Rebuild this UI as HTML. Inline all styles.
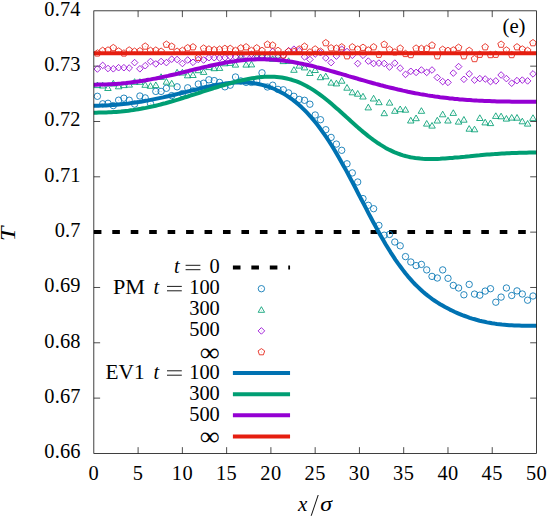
<!DOCTYPE html>
<html><head><meta charset="utf-8"><title>plot</title>
<style>
html,body{margin:0;padding:0;background:#fff;}
body{width:548px;height:517px;overflow:hidden;}
svg{display:block;}
text{font-family:"Liberation Serif",serif;fill:#000;}
.it{font-style:italic;}
</style></head><body>
<svg width="548" height="517" viewBox="0 0 548 517">
<rect width="548" height="517" fill="#fff"/>
<text x="93.8" y="480.3" font-size="20.4" text-anchor="middle" letter-spacing="0.4">0</text>
<text x="138.1" y="480.3" font-size="20.4" text-anchor="middle" letter-spacing="0.4">5</text>
<text x="182.4" y="480.3" font-size="20.4" text-anchor="middle" letter-spacing="0.4">10</text>
<text x="226.6" y="480.3" font-size="20.4" text-anchor="middle" letter-spacing="0.4">15</text>
<text x="270.9" y="480.3" font-size="20.4" text-anchor="middle" letter-spacing="0.4">20</text>
<text x="315.2" y="480.3" font-size="20.4" text-anchor="middle" letter-spacing="0.4">25</text>
<text x="359.4" y="480.3" font-size="20.4" text-anchor="middle" letter-spacing="0.4">30</text>
<text x="403.7" y="480.3" font-size="20.4" text-anchor="middle" letter-spacing="0.4">35</text>
<text x="448.0" y="480.3" font-size="20.4" text-anchor="middle" letter-spacing="0.4">40</text>
<text x="492.2" y="480.3" font-size="20.4" text-anchor="middle" letter-spacing="0.4">45</text>
<text x="536.5" y="480.3" font-size="20.4" text-anchor="middle" letter-spacing="0.4">50</text>
<text x="80.6" y="458.3" font-size="20.4" text-anchor="end" letter-spacing="0.15">0.66</text>
<text x="80.6" y="403.0" font-size="20.4" text-anchor="end" letter-spacing="0.15">0.67</text>
<text x="80.6" y="347.7" font-size="20.4" text-anchor="end" letter-spacing="0.15">0.68</text>
<text x="80.6" y="292.4" font-size="20.4" text-anchor="end" letter-spacing="0.15">0.69</text>
<text x="80.6" y="237.0" font-size="20.4" text-anchor="end" letter-spacing="0.15">0.7</text>
<text x="80.6" y="181.7" font-size="20.4" text-anchor="end" letter-spacing="0.15">0.71</text>
<text x="80.6" y="126.4" font-size="20.4" text-anchor="end" letter-spacing="0.15">0.72</text>
<text x="80.6" y="71.1" font-size="20.4" text-anchor="end" letter-spacing="0.15">0.73</text>
<text x="80.6" y="15.7" font-size="20.4" text-anchor="end" letter-spacing="0.15">0.74</text>
<path d="M138.10,453.45 v-6.3 M138.10,10.83 v6.3 M182.36,453.45 v-6.3 M182.36,10.83 v6.3 M226.63,453.45 v-6.3 M226.63,10.83 v6.3 M270.90,453.45 v-6.3 M270.90,10.83 v6.3 M315.17,453.45 v-6.3 M315.17,10.83 v6.3 M359.43,453.45 v-6.3 M359.43,10.83 v6.3 M403.70,453.45 v-6.3 M403.70,10.83 v6.3 M447.97,453.45 v-6.3 M447.97,10.83 v6.3 M492.23,453.45 v-6.3 M492.23,10.83 v6.3 M93.83,398.12 h6.3 M536.5,398.12 h-6.3 M93.83,342.79 h6.3 M536.5,342.79 h-6.3 M93.83,287.47 h6.3 M536.5,287.47 h-6.3 M93.83,232.14 h6.3 M536.5,232.14 h-6.3 M93.83,176.81 h6.3 M536.5,176.81 h-6.3 M93.83,121.49 h6.3 M536.5,121.49 h-6.3 M93.83,66.16 h6.3 M536.5,66.16 h-6.3" stroke="#000" stroke-width="0.7" fill="none"/>
<path d="M93.83,232.1 H536.5" stroke="#000" stroke-width="4.0" stroke-dasharray="7.6 10.85" fill="none"/>
<circle cx="97.4" cy="96.3" r="3.2" stroke="#0072b2" fill="none" stroke-width="0.85"/><circle cx="97.4" cy="96.3" r="0.4" fill="#0072b2" fill-opacity="0.7" stroke="none"/>
<circle cx="102.7" cy="103.8" r="3.2" stroke="#0072b2" fill="none" stroke-width="0.85"/><circle cx="102.7" cy="103.8" r="0.4" fill="#0072b2" fill-opacity="0.7" stroke="none"/>
<circle cx="108.0" cy="103.3" r="3.2" stroke="#0072b2" fill="none" stroke-width="0.85"/><circle cx="108.0" cy="103.3" r="0.4" fill="#0072b2" fill-opacity="0.7" stroke="none"/>
<circle cx="113.3" cy="105.6" r="3.2" stroke="#0072b2" fill="none" stroke-width="0.85"/><circle cx="113.3" cy="105.6" r="0.4" fill="#0072b2" fill-opacity="0.7" stroke="none"/>
<circle cx="118.6" cy="100.2" r="3.2" stroke="#0072b2" fill="none" stroke-width="0.85"/><circle cx="118.6" cy="100.2" r="0.4" fill="#0072b2" fill-opacity="0.7" stroke="none"/>
<circle cx="123.9" cy="98.2" r="3.2" stroke="#0072b2" fill="none" stroke-width="0.85"/><circle cx="123.9" cy="98.2" r="0.4" fill="#0072b2" fill-opacity="0.7" stroke="none"/>
<circle cx="129.2" cy="100.2" r="3.2" stroke="#0072b2" fill="none" stroke-width="0.85"/><circle cx="129.2" cy="100.2" r="0.4" fill="#0072b2" fill-opacity="0.7" stroke="none"/>
<circle cx="134.6" cy="104.1" r="3.2" stroke="#0072b2" fill="none" stroke-width="0.85"/><circle cx="134.6" cy="104.1" r="0.4" fill="#0072b2" fill-opacity="0.7" stroke="none"/>
<circle cx="139.9" cy="96.0" r="3.2" stroke="#0072b2" fill="none" stroke-width="0.85"/><circle cx="139.9" cy="96.0" r="0.4" fill="#0072b2" fill-opacity="0.7" stroke="none"/>
<circle cx="145.2" cy="97.9" r="3.2" stroke="#0072b2" fill="none" stroke-width="0.85"/><circle cx="145.2" cy="97.9" r="0.4" fill="#0072b2" fill-opacity="0.7" stroke="none"/>
<circle cx="150.5" cy="103.6" r="3.2" stroke="#0072b2" fill="none" stroke-width="0.85"/><circle cx="150.5" cy="103.6" r="0.4" fill="#0072b2" fill-opacity="0.7" stroke="none"/>
<circle cx="155.8" cy="91.4" r="3.2" stroke="#0072b2" fill="none" stroke-width="0.85"/><circle cx="155.8" cy="91.4" r="0.4" fill="#0072b2" fill-opacity="0.7" stroke="none"/>
<circle cx="161.1" cy="91.4" r="3.2" stroke="#0072b2" fill="none" stroke-width="0.85"/><circle cx="161.1" cy="91.4" r="0.4" fill="#0072b2" fill-opacity="0.7" stroke="none"/>
<circle cx="166.4" cy="88.3" r="3.2" stroke="#0072b2" fill="none" stroke-width="0.85"/><circle cx="166.4" cy="88.3" r="0.4" fill="#0072b2" fill-opacity="0.7" stroke="none"/>
<circle cx="171.7" cy="95.6" r="3.2" stroke="#0072b2" fill="none" stroke-width="0.85"/><circle cx="171.7" cy="95.6" r="0.4" fill="#0072b2" fill-opacity="0.7" stroke="none"/>
<circle cx="177.1" cy="86.8" r="3.2" stroke="#0072b2" fill="none" stroke-width="0.85"/><circle cx="177.1" cy="86.8" r="0.4" fill="#0072b2" fill-opacity="0.7" stroke="none"/>
<circle cx="182.4" cy="93.6" r="3.2" stroke="#0072b2" fill="none" stroke-width="0.85"/><circle cx="182.4" cy="93.6" r="0.4" fill="#0072b2" fill-opacity="0.7" stroke="none"/>
<circle cx="187.7" cy="87.8" r="3.2" stroke="#0072b2" fill="none" stroke-width="0.85"/><circle cx="187.7" cy="87.8" r="0.4" fill="#0072b2" fill-opacity="0.7" stroke="none"/>
<circle cx="193.0" cy="90.9" r="3.2" stroke="#0072b2" fill="none" stroke-width="0.85"/><circle cx="193.0" cy="90.9" r="0.4" fill="#0072b2" fill-opacity="0.7" stroke="none"/>
<circle cx="198.3" cy="84.0" r="3.2" stroke="#0072b2" fill="none" stroke-width="0.85"/><circle cx="198.3" cy="84.0" r="0.4" fill="#0072b2" fill-opacity="0.7" stroke="none"/>
<circle cx="203.6" cy="83.2" r="3.2" stroke="#0072b2" fill="none" stroke-width="0.85"/><circle cx="203.6" cy="83.2" r="0.4" fill="#0072b2" fill-opacity="0.7" stroke="none"/>
<circle cx="208.9" cy="79.8" r="3.2" stroke="#0072b2" fill="none" stroke-width="0.85"/><circle cx="208.9" cy="79.8" r="0.4" fill="#0072b2" fill-opacity="0.7" stroke="none"/>
<circle cx="214.2" cy="80.6" r="3.2" stroke="#0072b2" fill="none" stroke-width="0.85"/><circle cx="214.2" cy="80.6" r="0.4" fill="#0072b2" fill-opacity="0.7" stroke="none"/>
<circle cx="219.5" cy="82.4" r="3.2" stroke="#0072b2" fill="none" stroke-width="0.85"/><circle cx="219.5" cy="82.4" r="0.4" fill="#0072b2" fill-opacity="0.7" stroke="none"/>
<circle cx="224.9" cy="86.8" r="3.2" stroke="#0072b2" fill="none" stroke-width="0.85"/><circle cx="224.9" cy="86.8" r="0.4" fill="#0072b2" fill-opacity="0.7" stroke="none"/>
<circle cx="230.2" cy="85.2" r="3.2" stroke="#0072b2" fill="none" stroke-width="0.85"/><circle cx="230.2" cy="85.2" r="0.4" fill="#0072b2" fill-opacity="0.7" stroke="none"/>
<circle cx="235.5" cy="77.0" r="3.2" stroke="#0072b2" fill="none" stroke-width="0.85"/><circle cx="235.5" cy="77.0" r="0.4" fill="#0072b2" fill-opacity="0.7" stroke="none"/>
<circle cx="240.8" cy="80.9" r="3.2" stroke="#0072b2" fill="none" stroke-width="0.85"/><circle cx="240.8" cy="80.9" r="0.4" fill="#0072b2" fill-opacity="0.7" stroke="none"/>
<circle cx="246.1" cy="82.4" r="3.2" stroke="#0072b2" fill="none" stroke-width="0.85"/><circle cx="246.1" cy="82.4" r="0.4" fill="#0072b2" fill-opacity="0.7" stroke="none"/>
<circle cx="251.4" cy="82.4" r="3.2" stroke="#0072b2" fill="none" stroke-width="0.85"/><circle cx="251.4" cy="82.4" r="0.4" fill="#0072b2" fill-opacity="0.7" stroke="none"/>
<circle cx="256.7" cy="80.9" r="3.2" stroke="#0072b2" fill="none" stroke-width="0.85"/><circle cx="256.7" cy="80.9" r="0.4" fill="#0072b2" fill-opacity="0.7" stroke="none"/>
<circle cx="262.0" cy="72.8" r="3.2" stroke="#0072b2" fill="none" stroke-width="0.85"/><circle cx="262.0" cy="72.8" r="0.4" fill="#0072b2" fill-opacity="0.7" stroke="none"/>
<circle cx="267.4" cy="87.0" r="3.2" stroke="#0072b2" fill="none" stroke-width="0.85"/><circle cx="267.4" cy="87.0" r="0.4" fill="#0072b2" fill-opacity="0.7" stroke="none"/>
<circle cx="272.7" cy="85.2" r="3.2" stroke="#0072b2" fill="none" stroke-width="0.85"/><circle cx="272.7" cy="85.2" r="0.4" fill="#0072b2" fill-opacity="0.7" stroke="none"/>
<circle cx="278.0" cy="89.4" r="3.2" stroke="#0072b2" fill="none" stroke-width="0.85"/><circle cx="278.0" cy="89.4" r="0.4" fill="#0072b2" fill-opacity="0.7" stroke="none"/>
<circle cx="283.3" cy="89.8" r="3.2" stroke="#0072b2" fill="none" stroke-width="0.85"/><circle cx="283.3" cy="89.8" r="0.4" fill="#0072b2" fill-opacity="0.7" stroke="none"/>
<circle cx="288.6" cy="92.9" r="3.2" stroke="#0072b2" fill="none" stroke-width="0.85"/><circle cx="288.6" cy="92.9" r="0.4" fill="#0072b2" fill-opacity="0.7" stroke="none"/>
<circle cx="293.9" cy="96.3" r="3.2" stroke="#0072b2" fill="none" stroke-width="0.85"/><circle cx="293.9" cy="96.3" r="0.4" fill="#0072b2" fill-opacity="0.7" stroke="none"/>
<circle cx="299.2" cy="99.4" r="3.2" stroke="#0072b2" fill="none" stroke-width="0.85"/><circle cx="299.2" cy="99.4" r="0.4" fill="#0072b2" fill-opacity="0.7" stroke="none"/>
<circle cx="304.5" cy="100.3" r="3.2" stroke="#0072b2" fill="none" stroke-width="0.85"/><circle cx="304.5" cy="100.3" r="0.4" fill="#0072b2" fill-opacity="0.7" stroke="none"/>
<circle cx="309.9" cy="104.2" r="3.2" stroke="#0072b2" fill="none" stroke-width="0.85"/><circle cx="309.9" cy="104.2" r="0.4" fill="#0072b2" fill-opacity="0.7" stroke="none"/>
<circle cx="315.2" cy="115.0" r="3.2" stroke="#0072b2" fill="none" stroke-width="0.85"/><circle cx="315.2" cy="115.0" r="0.4" fill="#0072b2" fill-opacity="0.7" stroke="none"/>
<circle cx="320.5" cy="119.7" r="3.2" stroke="#0072b2" fill="none" stroke-width="0.85"/><circle cx="320.5" cy="119.7" r="0.4" fill="#0072b2" fill-opacity="0.7" stroke="none"/>
<circle cx="325.8" cy="129.7" r="3.2" stroke="#0072b2" fill="none" stroke-width="0.85"/><circle cx="325.8" cy="129.7" r="0.4" fill="#0072b2" fill-opacity="0.7" stroke="none"/>
<circle cx="331.1" cy="137.4" r="3.2" stroke="#0072b2" fill="none" stroke-width="0.85"/><circle cx="331.1" cy="137.4" r="0.4" fill="#0072b2" fill-opacity="0.7" stroke="none"/>
<circle cx="336.4" cy="144.1" r="3.2" stroke="#0072b2" fill="none" stroke-width="0.85"/><circle cx="336.4" cy="144.1" r="0.4" fill="#0072b2" fill-opacity="0.7" stroke="none"/>
<circle cx="341.7" cy="150.3" r="3.2" stroke="#0072b2" fill="none" stroke-width="0.85"/><circle cx="341.7" cy="150.3" r="0.4" fill="#0072b2" fill-opacity="0.7" stroke="none"/>
<circle cx="347.0" cy="163.8" r="3.2" stroke="#0072b2" fill="none" stroke-width="0.85"/><circle cx="347.0" cy="163.8" r="0.4" fill="#0072b2" fill-opacity="0.7" stroke="none"/>
<circle cx="352.3" cy="172.9" r="3.2" stroke="#0072b2" fill="none" stroke-width="0.85"/><circle cx="352.3" cy="172.9" r="0.4" fill="#0072b2" fill-opacity="0.7" stroke="none"/>
<circle cx="357.7" cy="182.0" r="3.2" stroke="#0072b2" fill="none" stroke-width="0.85"/><circle cx="357.7" cy="182.0" r="0.4" fill="#0072b2" fill-opacity="0.7" stroke="none"/>
<circle cx="363.0" cy="198.6" r="3.2" stroke="#0072b2" fill="none" stroke-width="0.85"/><circle cx="363.0" cy="198.6" r="0.4" fill="#0072b2" fill-opacity="0.7" stroke="none"/>
<circle cx="368.3" cy="205.3" r="3.2" stroke="#0072b2" fill="none" stroke-width="0.85"/><circle cx="368.3" cy="205.3" r="0.4" fill="#0072b2" fill-opacity="0.7" stroke="none"/>
<circle cx="373.6" cy="208.7" r="3.2" stroke="#0072b2" fill="none" stroke-width="0.85"/><circle cx="373.6" cy="208.7" r="0.4" fill="#0072b2" fill-opacity="0.7" stroke="none"/>
<circle cx="378.9" cy="225.4" r="3.2" stroke="#0072b2" fill="none" stroke-width="0.85"/><circle cx="378.9" cy="225.4" r="0.4" fill="#0072b2" fill-opacity="0.7" stroke="none"/>
<circle cx="384.2" cy="235.2" r="3.2" stroke="#0072b2" fill="none" stroke-width="0.85"/><circle cx="384.2" cy="235.2" r="0.4" fill="#0072b2" fill-opacity="0.7" stroke="none"/>
<circle cx="389.5" cy="234.4" r="3.2" stroke="#0072b2" fill="none" stroke-width="0.85"/><circle cx="389.5" cy="234.4" r="0.4" fill="#0072b2" fill-opacity="0.7" stroke="none"/>
<circle cx="394.8" cy="242.0" r="3.2" stroke="#0072b2" fill="none" stroke-width="0.85"/><circle cx="394.8" cy="242.0" r="0.4" fill="#0072b2" fill-opacity="0.7" stroke="none"/>
<circle cx="400.2" cy="245.8" r="3.2" stroke="#0072b2" fill="none" stroke-width="0.85"/><circle cx="400.2" cy="245.8" r="0.4" fill="#0072b2" fill-opacity="0.7" stroke="none"/>
<circle cx="405.5" cy="256.6" r="3.2" stroke="#0072b2" fill="none" stroke-width="0.85"/><circle cx="405.5" cy="256.6" r="0.4" fill="#0072b2" fill-opacity="0.7" stroke="none"/>
<circle cx="410.8" cy="262.0" r="3.2" stroke="#0072b2" fill="none" stroke-width="0.85"/><circle cx="410.8" cy="262.0" r="0.4" fill="#0072b2" fill-opacity="0.7" stroke="none"/>
<circle cx="416.1" cy="265.6" r="3.2" stroke="#0072b2" fill="none" stroke-width="0.85"/><circle cx="416.1" cy="265.6" r="0.4" fill="#0072b2" fill-opacity="0.7" stroke="none"/>
<circle cx="421.4" cy="264.4" r="3.2" stroke="#0072b2" fill="none" stroke-width="0.85"/><circle cx="421.4" cy="264.4" r="0.4" fill="#0072b2" fill-opacity="0.7" stroke="none"/>
<circle cx="426.7" cy="269.9" r="3.2" stroke="#0072b2" fill="none" stroke-width="0.85"/><circle cx="426.7" cy="269.9" r="0.4" fill="#0072b2" fill-opacity="0.7" stroke="none"/>
<circle cx="432.0" cy="276.4" r="3.2" stroke="#0072b2" fill="none" stroke-width="0.85"/><circle cx="432.0" cy="276.4" r="0.4" fill="#0072b2" fill-opacity="0.7" stroke="none"/>
<circle cx="437.3" cy="278.0" r="3.2" stroke="#0072b2" fill="none" stroke-width="0.85"/><circle cx="437.3" cy="278.0" r="0.4" fill="#0072b2" fill-opacity="0.7" stroke="none"/>
<circle cx="442.7" cy="269.9" r="3.2" stroke="#0072b2" fill="none" stroke-width="0.85"/><circle cx="442.7" cy="269.9" r="0.4" fill="#0072b2" fill-opacity="0.7" stroke="none"/>
<circle cx="448.0" cy="278.3" r="3.2" stroke="#0072b2" fill="none" stroke-width="0.85"/><circle cx="448.0" cy="278.3" r="0.4" fill="#0072b2" fill-opacity="0.7" stroke="none"/>
<circle cx="453.3" cy="285.4" r="3.2" stroke="#0072b2" fill="none" stroke-width="0.85"/><circle cx="453.3" cy="285.4" r="0.4" fill="#0072b2" fill-opacity="0.7" stroke="none"/>
<circle cx="458.6" cy="288.0" r="3.2" stroke="#0072b2" fill="none" stroke-width="0.85"/><circle cx="458.6" cy="288.0" r="0.4" fill="#0072b2" fill-opacity="0.7" stroke="none"/>
<circle cx="463.9" cy="294.8" r="3.2" stroke="#0072b2" fill="none" stroke-width="0.85"/><circle cx="463.9" cy="294.8" r="0.4" fill="#0072b2" fill-opacity="0.7" stroke="none"/>
<circle cx="469.2" cy="284.4" r="3.2" stroke="#0072b2" fill="none" stroke-width="0.85"/><circle cx="469.2" cy="284.4" r="0.4" fill="#0072b2" fill-opacity="0.7" stroke="none"/>
<circle cx="474.5" cy="294.1" r="3.2" stroke="#0072b2" fill="none" stroke-width="0.85"/><circle cx="474.5" cy="294.1" r="0.4" fill="#0072b2" fill-opacity="0.7" stroke="none"/>
<circle cx="479.8" cy="295.2" r="3.2" stroke="#0072b2" fill="none" stroke-width="0.85"/><circle cx="479.8" cy="295.2" r="0.4" fill="#0072b2" fill-opacity="0.7" stroke="none"/>
<circle cx="485.2" cy="291.1" r="3.2" stroke="#0072b2" fill="none" stroke-width="0.85"/><circle cx="485.2" cy="291.1" r="0.4" fill="#0072b2" fill-opacity="0.7" stroke="none"/>
<circle cx="490.5" cy="288.7" r="3.2" stroke="#0072b2" fill="none" stroke-width="0.85"/><circle cx="490.5" cy="288.7" r="0.4" fill="#0072b2" fill-opacity="0.7" stroke="none"/>
<circle cx="495.8" cy="302.2" r="3.2" stroke="#0072b2" fill="none" stroke-width="0.85"/><circle cx="495.8" cy="302.2" r="0.4" fill="#0072b2" fill-opacity="0.7" stroke="none"/>
<circle cx="501.1" cy="297.1" r="3.2" stroke="#0072b2" fill="none" stroke-width="0.85"/><circle cx="501.1" cy="297.1" r="0.4" fill="#0072b2" fill-opacity="0.7" stroke="none"/>
<circle cx="506.4" cy="288.0" r="3.2" stroke="#0072b2" fill="none" stroke-width="0.85"/><circle cx="506.4" cy="288.0" r="0.4" fill="#0072b2" fill-opacity="0.7" stroke="none"/>
<circle cx="511.7" cy="295.5" r="3.2" stroke="#0072b2" fill="none" stroke-width="0.85"/><circle cx="511.7" cy="295.5" r="0.4" fill="#0072b2" fill-opacity="0.7" stroke="none"/>
<circle cx="517.0" cy="290.9" r="3.2" stroke="#0072b2" fill="none" stroke-width="0.85"/><circle cx="517.0" cy="290.9" r="0.4" fill="#0072b2" fill-opacity="0.7" stroke="none"/>
<circle cx="522.3" cy="294.0" r="3.2" stroke="#0072b2" fill="none" stroke-width="0.85"/><circle cx="522.3" cy="294.0" r="0.4" fill="#0072b2" fill-opacity="0.7" stroke="none"/>
<circle cx="527.6" cy="300.2" r="3.2" stroke="#0072b2" fill="none" stroke-width="0.85"/><circle cx="527.6" cy="300.2" r="0.4" fill="#0072b2" fill-opacity="0.7" stroke="none"/>
<circle cx="533.0" cy="296.0" r="3.2" stroke="#0072b2" fill="none" stroke-width="0.85"/><circle cx="533.0" cy="296.0" r="0.4" fill="#0072b2" fill-opacity="0.7" stroke="none"/>
<polygon points="97.4,82.0 100.6,87.6 94.1,87.6" stroke="#009e73" fill="none" stroke-width="0.85"/><circle cx="97.4" cy="85.7" r="0.4" fill="#009e73" fill-opacity="0.7" stroke="none"/>
<polygon points="102.7,82.3 105.9,88.0 99.4,88.0" stroke="#009e73" fill="none" stroke-width="0.85"/><circle cx="102.7" cy="86.1" r="0.4" fill="#009e73" fill-opacity="0.7" stroke="none"/>
<polygon points="108.0,84.8 111.2,90.5 104.7,90.5" stroke="#009e73" fill="none" stroke-width="0.85"/><circle cx="108.0" cy="88.6" r="0.4" fill="#009e73" fill-opacity="0.7" stroke="none"/>
<polygon points="113.3,80.3 116.6,86.0 110.1,86.0" stroke="#009e73" fill="none" stroke-width="0.85"/><circle cx="113.3" cy="84.1" r="0.4" fill="#009e73" fill-opacity="0.7" stroke="none"/>
<polygon points="118.6,83.2 121.9,88.8 115.4,88.8" stroke="#009e73" fill="none" stroke-width="0.85"/><circle cx="118.6" cy="86.9" r="0.4" fill="#009e73" fill-opacity="0.7" stroke="none"/>
<polygon points="123.9,82.0 127.2,87.6 120.7,87.6" stroke="#009e73" fill="none" stroke-width="0.85"/><circle cx="123.9" cy="85.7" r="0.4" fill="#009e73" fill-opacity="0.7" stroke="none"/>
<polygon points="129.2,81.5 132.5,87.1 126.0,87.1" stroke="#009e73" fill="none" stroke-width="0.85"/><circle cx="129.2" cy="85.2" r="0.4" fill="#009e73" fill-opacity="0.7" stroke="none"/>
<polygon points="134.6,78.7 137.8,84.3 131.3,84.3" stroke="#009e73" fill="none" stroke-width="0.85"/><circle cx="134.6" cy="82.4" r="0.4" fill="#009e73" fill-opacity="0.7" stroke="none"/>
<polygon points="139.9,78.7 143.1,84.3 136.6,84.3" stroke="#009e73" fill="none" stroke-width="0.85"/><circle cx="139.9" cy="82.4" r="0.4" fill="#009e73" fill-opacity="0.7" stroke="none"/>
<polygon points="145.2,81.7 148.4,87.3 141.9,87.3" stroke="#009e73" fill="none" stroke-width="0.85"/><circle cx="145.2" cy="85.4" r="0.4" fill="#009e73" fill-opacity="0.7" stroke="none"/>
<polygon points="150.5,82.7 153.7,88.3 147.2,88.3" stroke="#009e73" fill="none" stroke-width="0.85"/><circle cx="150.5" cy="86.4" r="0.4" fill="#009e73" fill-opacity="0.7" stroke="none"/>
<polygon points="155.8,82.0 159.1,87.6 152.6,87.6" stroke="#009e73" fill="none" stroke-width="0.85"/><circle cx="155.8" cy="85.7" r="0.4" fill="#009e73" fill-opacity="0.7" stroke="none"/>
<polygon points="161.1,73.8 164.4,79.4 157.9,79.4" stroke="#009e73" fill="none" stroke-width="0.85"/><circle cx="161.1" cy="77.5" r="0.4" fill="#009e73" fill-opacity="0.7" stroke="none"/>
<polygon points="166.4,78.5 169.7,84.2 163.2,84.2" stroke="#009e73" fill="none" stroke-width="0.85"/><circle cx="166.4" cy="82.3" r="0.4" fill="#009e73" fill-opacity="0.7" stroke="none"/>
<polygon points="171.7,80.3 175.0,86.0 168.5,86.0" stroke="#009e73" fill="none" stroke-width="0.85"/><circle cx="171.7" cy="84.1" r="0.4" fill="#009e73" fill-opacity="0.7" stroke="none"/>
<polygon points="177.1,69.3 180.3,75.0 173.8,75.0" stroke="#009e73" fill="none" stroke-width="0.85"/><circle cx="177.1" cy="73.1" r="0.4" fill="#009e73" fill-opacity="0.7" stroke="none"/>
<polygon points="182.4,69.3 185.6,75.0 179.1,75.0" stroke="#009e73" fill="none" stroke-width="0.85"/><circle cx="182.4" cy="73.1" r="0.4" fill="#009e73" fill-opacity="0.7" stroke="none"/>
<polygon points="187.7,72.2 190.9,77.8 184.4,77.8" stroke="#009e73" fill="none" stroke-width="0.85"/><circle cx="187.7" cy="75.9" r="0.4" fill="#009e73" fill-opacity="0.7" stroke="none"/>
<polygon points="193.0,71.8 196.2,77.5 189.7,77.5" stroke="#009e73" fill="none" stroke-width="0.85"/><circle cx="193.0" cy="75.6" r="0.4" fill="#009e73" fill-opacity="0.7" stroke="none"/>
<polygon points="198.3,67.0 201.5,72.7 195.1,72.7" stroke="#009e73" fill="none" stroke-width="0.85"/><circle cx="198.3" cy="70.8" r="0.4" fill="#009e73" fill-opacity="0.7" stroke="none"/>
<polygon points="203.6,68.8 206.9,74.4 200.4,74.4" stroke="#009e73" fill="none" stroke-width="0.85"/><circle cx="203.6" cy="72.5" r="0.4" fill="#009e73" fill-opacity="0.7" stroke="none"/>
<polygon points="208.9,64.0 212.2,69.6 205.7,69.6" stroke="#009e73" fill="none" stroke-width="0.85"/><circle cx="208.9" cy="67.7" r="0.4" fill="#009e73" fill-opacity="0.7" stroke="none"/>
<polygon points="214.2,65.0 217.5,70.7 211.0,70.7" stroke="#009e73" fill="none" stroke-width="0.85"/><circle cx="214.2" cy="68.8" r="0.4" fill="#009e73" fill-opacity="0.7" stroke="none"/>
<polygon points="219.5,64.8 222.8,70.4 216.3,70.4" stroke="#009e73" fill="none" stroke-width="0.85"/><circle cx="219.5" cy="68.5" r="0.4" fill="#009e73" fill-opacity="0.7" stroke="none"/>
<polygon points="224.9,60.1 228.1,65.8 221.6,65.8" stroke="#009e73" fill="none" stroke-width="0.85"/><circle cx="224.9" cy="63.9" r="0.4" fill="#009e73" fill-opacity="0.7" stroke="none"/>
<polygon points="230.2,59.8 233.4,65.4 226.9,65.4" stroke="#009e73" fill="none" stroke-width="0.85"/><circle cx="230.2" cy="63.5" r="0.4" fill="#009e73" fill-opacity="0.7" stroke="none"/>
<polygon points="235.5,61.5 238.7,67.1 232.2,67.1" stroke="#009e73" fill="none" stroke-width="0.85"/><circle cx="235.5" cy="65.2" r="0.4" fill="#009e73" fill-opacity="0.7" stroke="none"/>
<polygon points="240.8,53.2 244.0,58.9 237.5,58.9" stroke="#009e73" fill="none" stroke-width="0.85"/><circle cx="240.8" cy="57.0" r="0.4" fill="#009e73" fill-opacity="0.7" stroke="none"/>
<polygon points="246.1,61.5 249.4,67.1 242.9,67.1" stroke="#009e73" fill="none" stroke-width="0.85"/><circle cx="246.1" cy="65.2" r="0.4" fill="#009e73" fill-opacity="0.7" stroke="none"/>
<polygon points="251.4,61.2 254.7,66.9 248.2,66.9" stroke="#009e73" fill="none" stroke-width="0.85"/><circle cx="251.4" cy="65.0" r="0.4" fill="#009e73" fill-opacity="0.7" stroke="none"/>
<polygon points="256.7,53.1 260.0,58.8 253.5,58.8" stroke="#009e73" fill="none" stroke-width="0.85"/><circle cx="256.7" cy="56.9" r="0.4" fill="#009e73" fill-opacity="0.7" stroke="none"/>
<polygon points="262.0,52.4 265.3,58.0 258.8,58.0" stroke="#009e73" fill="none" stroke-width="0.85"/><circle cx="262.0" cy="56.1" r="0.4" fill="#009e73" fill-opacity="0.7" stroke="none"/>
<polygon points="267.4,52.4 270.6,58.0 264.1,58.0" stroke="#009e73" fill="none" stroke-width="0.85"/><circle cx="267.4" cy="56.1" r="0.4" fill="#009e73" fill-opacity="0.7" stroke="none"/>
<polygon points="272.7,55.8 275.9,61.4 269.4,61.4" stroke="#009e73" fill="none" stroke-width="0.85"/><circle cx="272.7" cy="59.5" r="0.4" fill="#009e73" fill-opacity="0.7" stroke="none"/>
<polygon points="278.0,52.4 281.2,58.0 274.7,58.0" stroke="#009e73" fill="none" stroke-width="0.85"/><circle cx="278.0" cy="56.1" r="0.4" fill="#009e73" fill-opacity="0.7" stroke="none"/>
<polygon points="283.3,58.0 286.5,63.6 280.0,63.6" stroke="#009e73" fill="none" stroke-width="0.85"/><circle cx="283.3" cy="61.7" r="0.4" fill="#009e73" fill-opacity="0.7" stroke="none"/>
<polygon points="288.6,57.8 291.9,63.4 285.4,63.4" stroke="#009e73" fill="none" stroke-width="0.85"/><circle cx="288.6" cy="61.5" r="0.4" fill="#009e73" fill-opacity="0.7" stroke="none"/>
<polygon points="293.9,66.7 297.2,72.3 290.7,72.3" stroke="#009e73" fill="none" stroke-width="0.85"/><circle cx="293.9" cy="70.4" r="0.4" fill="#009e73" fill-opacity="0.7" stroke="none"/>
<polygon points="299.2,62.5 302.5,68.1 296.0,68.1" stroke="#009e73" fill="none" stroke-width="0.85"/><circle cx="299.2" cy="66.2" r="0.4" fill="#009e73" fill-opacity="0.7" stroke="none"/>
<polygon points="304.5,64.2 307.8,69.9 301.3,69.9" stroke="#009e73" fill="none" stroke-width="0.85"/><circle cx="304.5" cy="68.0" r="0.4" fill="#009e73" fill-opacity="0.7" stroke="none"/>
<polygon points="309.9,69.8 313.1,75.5 306.6,75.5" stroke="#009e73" fill="none" stroke-width="0.85"/><circle cx="309.9" cy="73.6" r="0.4" fill="#009e73" fill-opacity="0.7" stroke="none"/>
<polygon points="315.2,66.8 318.4,72.5 311.9,72.5" stroke="#009e73" fill="none" stroke-width="0.85"/><circle cx="315.2" cy="70.6" r="0.4" fill="#009e73" fill-opacity="0.7" stroke="none"/>
<polygon points="320.5,74.0 323.7,79.7 317.2,79.7" stroke="#009e73" fill="none" stroke-width="0.85"/><circle cx="320.5" cy="77.8" r="0.4" fill="#009e73" fill-opacity="0.7" stroke="none"/>
<polygon points="325.8,73.2 329.0,78.8 322.5,78.8" stroke="#009e73" fill="none" stroke-width="0.85"/><circle cx="325.8" cy="76.9" r="0.4" fill="#009e73" fill-opacity="0.7" stroke="none"/>
<polygon points="331.1,79.5 334.3,85.1 327.9,85.1" stroke="#009e73" fill="none" stroke-width="0.85"/><circle cx="331.1" cy="83.2" r="0.4" fill="#009e73" fill-opacity="0.7" stroke="none"/>
<polygon points="336.4,80.2 339.7,85.9 333.2,85.9" stroke="#009e73" fill="none" stroke-width="0.85"/><circle cx="336.4" cy="84.0" r="0.4" fill="#009e73" fill-opacity="0.7" stroke="none"/>
<polygon points="341.7,77.5 345.0,83.2 338.5,83.2" stroke="#009e73" fill="none" stroke-width="0.85"/><circle cx="341.7" cy="81.3" r="0.4" fill="#009e73" fill-opacity="0.7" stroke="none"/>
<polygon points="347.0,84.5 350.3,90.2 343.8,90.2" stroke="#009e73" fill="none" stroke-width="0.85"/><circle cx="347.0" cy="88.3" r="0.4" fill="#009e73" fill-opacity="0.7" stroke="none"/>
<polygon points="352.3,89.2 355.6,94.8 349.1,94.8" stroke="#009e73" fill="none" stroke-width="0.85"/><circle cx="352.3" cy="92.9" r="0.4" fill="#009e73" fill-opacity="0.7" stroke="none"/>
<polygon points="357.7,90.5 360.9,96.2 354.4,96.2" stroke="#009e73" fill="none" stroke-width="0.85"/><circle cx="357.7" cy="94.3" r="0.4" fill="#009e73" fill-opacity="0.7" stroke="none"/>
<polygon points="363.0,93.3 366.2,99.0 359.7,99.0" stroke="#009e73" fill="none" stroke-width="0.85"/><circle cx="363.0" cy="97.1" r="0.4" fill="#009e73" fill-opacity="0.7" stroke="none"/>
<polygon points="368.3,104.2 371.5,109.9 365.0,109.9" stroke="#009e73" fill="none" stroke-width="0.85"/><circle cx="368.3" cy="108.0" r="0.4" fill="#009e73" fill-opacity="0.7" stroke="none"/>
<polygon points="373.6,95.3 376.8,101.0 370.3,101.0" stroke="#009e73" fill="none" stroke-width="0.85"/><circle cx="373.6" cy="99.1" r="0.4" fill="#009e73" fill-opacity="0.7" stroke="none"/>
<polygon points="378.9,99.0 382.2,104.7 375.7,104.7" stroke="#009e73" fill="none" stroke-width="0.85"/><circle cx="378.9" cy="102.8" r="0.4" fill="#009e73" fill-opacity="0.7" stroke="none"/>
<polygon points="384.2,110.0 387.5,115.7 381.0,115.7" stroke="#009e73" fill="none" stroke-width="0.85"/><circle cx="384.2" cy="113.8" r="0.4" fill="#009e73" fill-opacity="0.7" stroke="none"/>
<polygon points="389.5,99.5 392.8,105.1 386.3,105.1" stroke="#009e73" fill="none" stroke-width="0.85"/><circle cx="389.5" cy="103.2" r="0.4" fill="#009e73" fill-opacity="0.7" stroke="none"/>
<polygon points="394.8,107.7 398.1,113.3 391.6,113.3" stroke="#009e73" fill="none" stroke-width="0.85"/><circle cx="394.8" cy="111.4" r="0.4" fill="#009e73" fill-opacity="0.7" stroke="none"/>
<polygon points="400.2,106.0 403.4,111.7 396.9,111.7" stroke="#009e73" fill="none" stroke-width="0.85"/><circle cx="400.2" cy="109.8" r="0.4" fill="#009e73" fill-opacity="0.7" stroke="none"/>
<polygon points="405.5,106.5 408.7,112.2 402.2,112.2" stroke="#009e73" fill="none" stroke-width="0.85"/><circle cx="405.5" cy="110.3" r="0.4" fill="#009e73" fill-opacity="0.7" stroke="none"/>
<polygon points="410.8,117.3 414.0,123.0 407.5,123.0" stroke="#009e73" fill="none" stroke-width="0.85"/><circle cx="410.8" cy="121.1" r="0.4" fill="#009e73" fill-opacity="0.7" stroke="none"/>
<polygon points="416.1,115.0 419.3,120.7 412.8,120.7" stroke="#009e73" fill="none" stroke-width="0.85"/><circle cx="416.1" cy="118.8" r="0.4" fill="#009e73" fill-opacity="0.7" stroke="none"/>
<polygon points="421.4,107.7 424.7,113.3 418.2,113.3" stroke="#009e73" fill="none" stroke-width="0.85"/><circle cx="421.4" cy="111.4" r="0.4" fill="#009e73" fill-opacity="0.7" stroke="none"/>
<polygon points="426.7,120.5 430.0,126.1 423.5,126.1" stroke="#009e73" fill="none" stroke-width="0.85"/><circle cx="426.7" cy="124.2" r="0.4" fill="#009e73" fill-opacity="0.7" stroke="none"/>
<polygon points="432.0,122.5 435.3,128.1 428.8,128.1" stroke="#009e73" fill="none" stroke-width="0.85"/><circle cx="432.0" cy="126.2" r="0.4" fill="#009e73" fill-opacity="0.7" stroke="none"/>
<polygon points="437.3,117.3 440.6,123.0 434.1,123.0" stroke="#009e73" fill="none" stroke-width="0.85"/><circle cx="437.3" cy="121.1" r="0.4" fill="#009e73" fill-opacity="0.7" stroke="none"/>
<polygon points="442.7,111.2 445.9,116.8 439.4,116.8" stroke="#009e73" fill="none" stroke-width="0.85"/><circle cx="442.7" cy="114.9" r="0.4" fill="#009e73" fill-opacity="0.7" stroke="none"/>
<polygon points="448.0,117.3 451.2,123.0 444.7,123.0" stroke="#009e73" fill="none" stroke-width="0.85"/><circle cx="448.0" cy="121.1" r="0.4" fill="#009e73" fill-opacity="0.7" stroke="none"/>
<polygon points="453.3,109.8 456.5,115.4 450.0,115.4" stroke="#009e73" fill="none" stroke-width="0.85"/><circle cx="453.3" cy="113.5" r="0.4" fill="#009e73" fill-opacity="0.7" stroke="none"/>
<polygon points="458.6,118.5 461.8,124.1 455.3,124.1" stroke="#009e73" fill="none" stroke-width="0.85"/><circle cx="458.6" cy="122.2" r="0.4" fill="#009e73" fill-opacity="0.7" stroke="none"/>
<polygon points="463.9,116.5 467.1,122.2 460.7,122.2" stroke="#009e73" fill="none" stroke-width="0.85"/><circle cx="463.9" cy="120.3" r="0.4" fill="#009e73" fill-opacity="0.7" stroke="none"/>
<polygon points="469.2,125.6 472.5,131.2 466.0,131.2" stroke="#009e73" fill="none" stroke-width="0.85"/><circle cx="469.2" cy="129.3" r="0.4" fill="#009e73" fill-opacity="0.7" stroke="none"/>
<polygon points="474.5,126.2 477.8,131.8 471.3,131.8" stroke="#009e73" fill="none" stroke-width="0.85"/><circle cx="474.5" cy="129.9" r="0.4" fill="#009e73" fill-opacity="0.7" stroke="none"/>
<polygon points="479.8,114.8 483.1,120.5 476.6,120.5" stroke="#009e73" fill="none" stroke-width="0.85"/><circle cx="479.8" cy="118.6" r="0.4" fill="#009e73" fill-opacity="0.7" stroke="none"/>
<polygon points="485.2,119.2 488.4,124.9 481.9,124.9" stroke="#009e73" fill="none" stroke-width="0.85"/><circle cx="485.2" cy="123.0" r="0.4" fill="#009e73" fill-opacity="0.7" stroke="none"/>
<polygon points="490.5,120.0 493.7,125.6 487.2,125.6" stroke="#009e73" fill="none" stroke-width="0.85"/><circle cx="490.5" cy="123.7" r="0.4" fill="#009e73" fill-opacity="0.7" stroke="none"/>
<polygon points="495.8,112.8 499.0,118.4 492.5,118.4" stroke="#009e73" fill="none" stroke-width="0.85"/><circle cx="495.8" cy="116.5" r="0.4" fill="#009e73" fill-opacity="0.7" stroke="none"/>
<polygon points="501.1,113.2 504.3,118.8 497.8,118.8" stroke="#009e73" fill="none" stroke-width="0.85"/><circle cx="501.1" cy="116.9" r="0.4" fill="#009e73" fill-opacity="0.7" stroke="none"/>
<polygon points="506.4,115.5 509.6,121.1 503.2,121.1" stroke="#009e73" fill="none" stroke-width="0.85"/><circle cx="506.4" cy="119.2" r="0.4" fill="#009e73" fill-opacity="0.7" stroke="none"/>
<polygon points="511.7,114.5 515.0,120.1 508.5,120.1" stroke="#009e73" fill="none" stroke-width="0.85"/><circle cx="511.7" cy="118.2" r="0.4" fill="#009e73" fill-opacity="0.7" stroke="none"/>
<polygon points="517.0,114.5 520.3,120.2 513.8,120.2" stroke="#009e73" fill="none" stroke-width="0.85"/><circle cx="517.0" cy="118.3" r="0.4" fill="#009e73" fill-opacity="0.7" stroke="none"/>
<polygon points="522.3,118.2 525.6,123.8 519.1,123.8" stroke="#009e73" fill="none" stroke-width="0.85"/><circle cx="522.3" cy="121.9" r="0.4" fill="#009e73" fill-opacity="0.7" stroke="none"/>
<polygon points="527.6,120.5 530.9,126.1 524.4,126.1" stroke="#009e73" fill="none" stroke-width="0.85"/><circle cx="527.6" cy="124.2" r="0.4" fill="#009e73" fill-opacity="0.7" stroke="none"/>
<polygon points="533.0,114.8 536.2,120.4 529.7,120.4" stroke="#009e73" fill="none" stroke-width="0.85"/><circle cx="533.0" cy="118.5" r="0.4" fill="#009e73" fill-opacity="0.7" stroke="none"/>
<polygon points="97.4,65.7 100.7,69.0 97.4,72.3 94.1,69.0" stroke="#9400d3" fill="none" stroke-width="0.85"/><circle cx="97.4" cy="69.0" r="0.4" fill="#9400d3" fill-opacity="0.7" stroke="none"/>
<polygon points="102.7,62.1 106.0,65.4 102.7,68.7 99.4,65.4" stroke="#9400d3" fill="none" stroke-width="0.85"/><circle cx="102.7" cy="65.4" r="0.4" fill="#9400d3" fill-opacity="0.7" stroke="none"/>
<polygon points="108.0,65.2 111.3,68.5 108.0,71.8 104.7,68.5" stroke="#9400d3" fill="none" stroke-width="0.85"/><circle cx="108.0" cy="68.5" r="0.4" fill="#9400d3" fill-opacity="0.7" stroke="none"/>
<polygon points="113.3,65.5 116.6,68.8 113.3,72.1 110.0,68.8" stroke="#9400d3" fill="none" stroke-width="0.85"/><circle cx="113.3" cy="68.8" r="0.4" fill="#9400d3" fill-opacity="0.7" stroke="none"/>
<polygon points="118.6,64.4 121.9,67.7 118.6,71.0 115.3,67.7" stroke="#9400d3" fill="none" stroke-width="0.85"/><circle cx="118.6" cy="67.7" r="0.4" fill="#9400d3" fill-opacity="0.7" stroke="none"/>
<polygon points="123.9,64.4 127.2,67.7 123.9,71.0 120.6,67.7" stroke="#9400d3" fill="none" stroke-width="0.85"/><circle cx="123.9" cy="67.7" r="0.4" fill="#9400d3" fill-opacity="0.7" stroke="none"/>
<polygon points="129.2,64.7 132.5,68.0 129.2,71.3 125.9,68.0" stroke="#9400d3" fill="none" stroke-width="0.85"/><circle cx="129.2" cy="68.0" r="0.4" fill="#9400d3" fill-opacity="0.7" stroke="none"/>
<polygon points="134.6,59.3 137.9,62.6 134.6,65.9 131.3,62.6" stroke="#9400d3" fill="none" stroke-width="0.85"/><circle cx="134.6" cy="62.6" r="0.4" fill="#9400d3" fill-opacity="0.7" stroke="none"/>
<polygon points="139.9,65.5 143.2,68.8 139.9,72.1 136.6,68.8" stroke="#9400d3" fill="none" stroke-width="0.85"/><circle cx="139.9" cy="68.8" r="0.4" fill="#9400d3" fill-opacity="0.7" stroke="none"/>
<polygon points="145.2,62.4 148.5,65.7 145.2,69.0 141.9,65.7" stroke="#9400d3" fill="none" stroke-width="0.85"/><circle cx="145.2" cy="65.7" r="0.4" fill="#9400d3" fill-opacity="0.7" stroke="none"/>
<polygon points="150.5,58.2 153.8,61.5 150.5,64.8 147.2,61.5" stroke="#9400d3" fill="none" stroke-width="0.85"/><circle cx="150.5" cy="61.5" r="0.4" fill="#9400d3" fill-opacity="0.7" stroke="none"/>
<polygon points="155.8,60.6 159.1,63.9 155.8,67.2 152.5,63.9" stroke="#9400d3" fill="none" stroke-width="0.85"/><circle cx="155.8" cy="63.9" r="0.4" fill="#9400d3" fill-opacity="0.7" stroke="none"/>
<polygon points="161.1,58.2 164.4,61.5 161.1,64.8 157.8,61.5" stroke="#9400d3" fill="none" stroke-width="0.85"/><circle cx="161.1" cy="61.5" r="0.4" fill="#9400d3" fill-opacity="0.7" stroke="none"/>
<polygon points="166.4,59.3 169.7,62.6 166.4,65.9 163.1,62.6" stroke="#9400d3" fill="none" stroke-width="0.85"/><circle cx="166.4" cy="62.6" r="0.4" fill="#9400d3" fill-opacity="0.7" stroke="none"/>
<polygon points="171.7,55.9 175.0,59.2 171.7,62.5 168.4,59.2" stroke="#9400d3" fill="none" stroke-width="0.85"/><circle cx="171.7" cy="59.2" r="0.4" fill="#9400d3" fill-opacity="0.7" stroke="none"/>
<polygon points="177.1,56.2 180.4,59.5 177.1,62.8 173.8,59.5" stroke="#9400d3" fill="none" stroke-width="0.85"/><circle cx="177.1" cy="59.5" r="0.4" fill="#9400d3" fill-opacity="0.7" stroke="none"/>
<polygon points="182.4,60.2 185.7,63.5 182.4,66.8 179.1,63.5" stroke="#9400d3" fill="none" stroke-width="0.85"/><circle cx="182.4" cy="63.5" r="0.4" fill="#9400d3" fill-opacity="0.7" stroke="none"/>
<polygon points="187.7,56.7 191.0,60.0 187.7,63.3 184.4,60.0" stroke="#9400d3" fill="none" stroke-width="0.85"/><circle cx="187.7" cy="60.0" r="0.4" fill="#9400d3" fill-opacity="0.7" stroke="none"/>
<polygon points="193.0,59.0 196.3,62.3 193.0,65.6 189.7,62.3" stroke="#9400d3" fill="none" stroke-width="0.85"/><circle cx="193.0" cy="62.3" r="0.4" fill="#9400d3" fill-opacity="0.7" stroke="none"/>
<polygon points="198.3,56.2 201.6,59.5 198.3,62.8 195.0,59.5" stroke="#9400d3" fill="none" stroke-width="0.85"/><circle cx="198.3" cy="59.5" r="0.4" fill="#9400d3" fill-opacity="0.7" stroke="none"/>
<polygon points="203.6,56.7 206.9,60.0 203.6,63.3 200.3,60.0" stroke="#9400d3" fill="none" stroke-width="0.85"/><circle cx="203.6" cy="60.0" r="0.4" fill="#9400d3" fill-opacity="0.7" stroke="none"/>
<polygon points="208.9,54.4 212.2,57.7 208.9,61.0 205.6,57.7" stroke="#9400d3" fill="none" stroke-width="0.85"/><circle cx="208.9" cy="57.7" r="0.4" fill="#9400d3" fill-opacity="0.7" stroke="none"/>
<polygon points="214.2,54.4 217.5,57.7 214.2,61.0 210.9,57.7" stroke="#9400d3" fill="none" stroke-width="0.85"/><circle cx="214.2" cy="57.7" r="0.4" fill="#9400d3" fill-opacity="0.7" stroke="none"/>
<polygon points="219.5,54.7 222.8,58.0 219.5,61.3 216.2,58.0" stroke="#9400d3" fill="none" stroke-width="0.85"/><circle cx="219.5" cy="58.0" r="0.4" fill="#9400d3" fill-opacity="0.7" stroke="none"/>
<polygon points="224.9,54.4 228.2,57.7 224.9,61.0 221.6,57.7" stroke="#9400d3" fill="none" stroke-width="0.85"/><circle cx="224.9" cy="57.7" r="0.4" fill="#9400d3" fill-opacity="0.7" stroke="none"/>
<polygon points="230.2,53.3 233.5,56.6 230.2,59.9 226.9,56.6" stroke="#9400d3" fill="none" stroke-width="0.85"/><circle cx="230.2" cy="56.6" r="0.4" fill="#9400d3" fill-opacity="0.7" stroke="none"/>
<polygon points="235.5,53.6 238.8,56.9 235.5,60.2 232.2,56.9" stroke="#9400d3" fill="none" stroke-width="0.85"/><circle cx="235.5" cy="56.9" r="0.4" fill="#9400d3" fill-opacity="0.7" stroke="none"/>
<polygon points="240.8,52.0 244.1,55.3 240.8,58.6 237.5,55.3" stroke="#9400d3" fill="none" stroke-width="0.85"/><circle cx="240.8" cy="55.3" r="0.4" fill="#9400d3" fill-opacity="0.7" stroke="none"/>
<polygon points="246.1,52.0 249.4,55.3 246.1,58.6 242.8,55.3" stroke="#9400d3" fill="none" stroke-width="0.85"/><circle cx="246.1" cy="55.3" r="0.4" fill="#9400d3" fill-opacity="0.7" stroke="none"/>
<polygon points="251.4,51.0 254.7,54.3 251.4,57.6 248.1,54.3" stroke="#9400d3" fill="none" stroke-width="0.85"/><circle cx="251.4" cy="54.3" r="0.4" fill="#9400d3" fill-opacity="0.7" stroke="none"/>
<polygon points="256.7,52.0 260.0,55.3 256.7,58.6 253.4,55.3" stroke="#9400d3" fill="none" stroke-width="0.85"/><circle cx="256.7" cy="55.3" r="0.4" fill="#9400d3" fill-opacity="0.7" stroke="none"/>
<polygon points="262.0,52.5 265.3,55.8 262.0,59.1 258.7,55.8" stroke="#9400d3" fill="none" stroke-width="0.85"/><circle cx="262.0" cy="55.8" r="0.4" fill="#9400d3" fill-opacity="0.7" stroke="none"/>
<polygon points="267.4,52.8 270.7,56.1 267.4,59.4 264.1,56.1" stroke="#9400d3" fill="none" stroke-width="0.85"/><circle cx="267.4" cy="56.1" r="0.4" fill="#9400d3" fill-opacity="0.7" stroke="none"/>
<polygon points="272.7,48.2 276.0,51.5 272.7,54.8 269.4,51.5" stroke="#9400d3" fill="none" stroke-width="0.85"/><circle cx="272.7" cy="51.5" r="0.4" fill="#9400d3" fill-opacity="0.7" stroke="none"/>
<polygon points="278.0,52.5 281.3,55.8 278.0,59.1 274.7,55.8" stroke="#9400d3" fill="none" stroke-width="0.85"/><circle cx="278.0" cy="55.8" r="0.4" fill="#9400d3" fill-opacity="0.7" stroke="none"/>
<polygon points="283.3,52.5 286.6,55.8 283.3,59.1 280.0,55.8" stroke="#9400d3" fill="none" stroke-width="0.85"/><circle cx="283.3" cy="55.8" r="0.4" fill="#9400d3" fill-opacity="0.7" stroke="none"/>
<polygon points="288.6,47.4 291.9,50.7 288.6,54.0 285.3,50.7" stroke="#9400d3" fill="none" stroke-width="0.85"/><circle cx="288.6" cy="50.7" r="0.4" fill="#9400d3" fill-opacity="0.7" stroke="none"/>
<polygon points="293.9,45.9 297.2,49.2 293.9,52.5 290.6,49.2" stroke="#9400d3" fill="none" stroke-width="0.85"/><circle cx="293.9" cy="49.2" r="0.4" fill="#9400d3" fill-opacity="0.7" stroke="none"/>
<polygon points="299.2,47.4 302.5,50.7 299.2,54.0 295.9,50.7" stroke="#9400d3" fill="none" stroke-width="0.85"/><circle cx="299.2" cy="50.7" r="0.4" fill="#9400d3" fill-opacity="0.7" stroke="none"/>
<polygon points="304.5,53.6 307.8,56.9 304.5,60.2 301.2,56.9" stroke="#9400d3" fill="none" stroke-width="0.85"/><circle cx="304.5" cy="56.9" r="0.4" fill="#9400d3" fill-opacity="0.7" stroke="none"/>
<polygon points="309.9,56.2 313.2,59.5 309.9,62.8 306.6,59.5" stroke="#9400d3" fill="none" stroke-width="0.85"/><circle cx="309.9" cy="59.5" r="0.4" fill="#9400d3" fill-opacity="0.7" stroke="none"/>
<polygon points="315.2,50.7 318.5,54.0 315.2,57.3 311.9,54.0" stroke="#9400d3" fill="none" stroke-width="0.85"/><circle cx="315.2" cy="54.0" r="0.4" fill="#9400d3" fill-opacity="0.7" stroke="none"/>
<polygon points="320.5,49.4 323.8,52.7 320.5,56.0 317.2,52.7" stroke="#9400d3" fill="none" stroke-width="0.85"/><circle cx="320.5" cy="52.7" r="0.4" fill="#9400d3" fill-opacity="0.7" stroke="none"/>
<polygon points="325.8,54.7 329.1,58.0 325.8,61.3 322.5,58.0" stroke="#9400d3" fill="none" stroke-width="0.85"/><circle cx="325.8" cy="58.0" r="0.4" fill="#9400d3" fill-opacity="0.7" stroke="none"/>
<polygon points="331.1,59.3 334.4,62.6 331.1,65.9 327.8,62.6" stroke="#9400d3" fill="none" stroke-width="0.85"/><circle cx="331.1" cy="62.6" r="0.4" fill="#9400d3" fill-opacity="0.7" stroke="none"/>
<polygon points="336.4,52.8 339.7,56.1 336.4,59.4 333.1,56.1" stroke="#9400d3" fill="none" stroke-width="0.85"/><circle cx="336.4" cy="56.1" r="0.4" fill="#9400d3" fill-opacity="0.7" stroke="none"/>
<polygon points="341.7,45.9 345.0,49.2 341.7,52.5 338.4,49.2" stroke="#9400d3" fill="none" stroke-width="0.85"/><circle cx="341.7" cy="49.2" r="0.4" fill="#9400d3" fill-opacity="0.7" stroke="none"/>
<polygon points="347.0,48.2 350.3,51.5 347.0,54.8 343.7,51.5" stroke="#9400d3" fill="none" stroke-width="0.85"/><circle cx="347.0" cy="51.5" r="0.4" fill="#9400d3" fill-opacity="0.7" stroke="none"/>
<polygon points="352.3,52.0 355.6,55.3 352.3,58.6 349.0,55.3" stroke="#9400d3" fill="none" stroke-width="0.85"/><circle cx="352.3" cy="55.3" r="0.4" fill="#9400d3" fill-opacity="0.7" stroke="none"/>
<polygon points="357.7,60.2 361.0,63.5 357.7,66.8 354.4,63.5" stroke="#9400d3" fill="none" stroke-width="0.85"/><circle cx="357.7" cy="63.5" r="0.4" fill="#9400d3" fill-opacity="0.7" stroke="none"/>
<polygon points="363.0,52.0 366.3,55.3 363.0,58.6 359.7,55.3" stroke="#9400d3" fill="none" stroke-width="0.85"/><circle cx="363.0" cy="55.3" r="0.4" fill="#9400d3" fill-opacity="0.7" stroke="none"/>
<polygon points="368.3,57.8 371.6,61.1 368.3,64.4 365.0,61.1" stroke="#9400d3" fill="none" stroke-width="0.85"/><circle cx="368.3" cy="61.1" r="0.4" fill="#9400d3" fill-opacity="0.7" stroke="none"/>
<polygon points="373.6,60.2 376.9,63.5 373.6,66.8 370.3,63.5" stroke="#9400d3" fill="none" stroke-width="0.85"/><circle cx="373.6" cy="63.5" r="0.4" fill="#9400d3" fill-opacity="0.7" stroke="none"/>
<polygon points="378.9,59.8 382.2,63.1 378.9,66.4 375.6,63.1" stroke="#9400d3" fill="none" stroke-width="0.85"/><circle cx="378.9" cy="63.1" r="0.4" fill="#9400d3" fill-opacity="0.7" stroke="none"/>
<polygon points="384.2,60.2 387.5,63.5 384.2,66.8 380.9,63.5" stroke="#9400d3" fill="none" stroke-width="0.85"/><circle cx="384.2" cy="63.5" r="0.4" fill="#9400d3" fill-opacity="0.7" stroke="none"/>
<polygon points="389.5,63.7 392.8,67.0 389.5,70.3 386.2,67.0" stroke="#9400d3" fill="none" stroke-width="0.85"/><circle cx="389.5" cy="67.0" r="0.4" fill="#9400d3" fill-opacity="0.7" stroke="none"/>
<polygon points="394.8,59.8 398.1,63.1 394.8,66.4 391.5,63.1" stroke="#9400d3" fill="none" stroke-width="0.85"/><circle cx="394.8" cy="63.1" r="0.4" fill="#9400d3" fill-opacity="0.7" stroke="none"/>
<polygon points="400.2,64.9 403.5,68.2 400.2,71.5 396.9,68.2" stroke="#9400d3" fill="none" stroke-width="0.85"/><circle cx="400.2" cy="68.2" r="0.4" fill="#9400d3" fill-opacity="0.7" stroke="none"/>
<polygon points="405.5,71.1 408.8,74.4 405.5,77.7 402.2,74.4" stroke="#9400d3" fill="none" stroke-width="0.85"/><circle cx="405.5" cy="74.4" r="0.4" fill="#9400d3" fill-opacity="0.7" stroke="none"/>
<polygon points="410.8,68.0 414.1,71.3 410.8,74.6 407.5,71.3" stroke="#9400d3" fill="none" stroke-width="0.85"/><circle cx="410.8" cy="71.3" r="0.4" fill="#9400d3" fill-opacity="0.7" stroke="none"/>
<polygon points="416.1,69.1 419.4,72.4 416.1,75.7 412.8,72.4" stroke="#9400d3" fill="none" stroke-width="0.85"/><circle cx="416.1" cy="72.4" r="0.4" fill="#9400d3" fill-opacity="0.7" stroke="none"/>
<polygon points="421.4,66.7 424.7,70.0 421.4,73.3 418.1,70.0" stroke="#9400d3" fill="none" stroke-width="0.85"/><circle cx="421.4" cy="70.0" r="0.4" fill="#9400d3" fill-opacity="0.7" stroke="none"/>
<polygon points="426.7,69.1 430.0,72.4 426.7,75.7 423.4,72.4" stroke="#9400d3" fill="none" stroke-width="0.85"/><circle cx="426.7" cy="72.4" r="0.4" fill="#9400d3" fill-opacity="0.7" stroke="none"/>
<polygon points="432.0,66.7 435.3,70.0 432.0,73.3 428.7,70.0" stroke="#9400d3" fill="none" stroke-width="0.85"/><circle cx="432.0" cy="70.0" r="0.4" fill="#9400d3" fill-opacity="0.7" stroke="none"/>
<polygon points="437.3,74.2 440.6,77.5 437.3,80.8 434.0,77.5" stroke="#9400d3" fill="none" stroke-width="0.85"/><circle cx="437.3" cy="77.5" r="0.4" fill="#9400d3" fill-opacity="0.7" stroke="none"/>
<polygon points="442.7,78.3 446.0,81.6 442.7,84.9 439.4,81.6" stroke="#9400d3" fill="none" stroke-width="0.85"/><circle cx="442.7" cy="81.6" r="0.4" fill="#9400d3" fill-opacity="0.7" stroke="none"/>
<polygon points="448.0,79.1 451.3,82.4 448.0,85.7 444.7,82.4" stroke="#9400d3" fill="none" stroke-width="0.85"/><circle cx="448.0" cy="82.4" r="0.4" fill="#9400d3" fill-opacity="0.7" stroke="none"/>
<polygon points="453.3,69.8 456.6,73.1 453.3,76.4 450.0,73.1" stroke="#9400d3" fill="none" stroke-width="0.85"/><circle cx="453.3" cy="73.1" r="0.4" fill="#9400d3" fill-opacity="0.7" stroke="none"/>
<polygon points="458.6,63.3 461.9,66.6 458.6,69.9 455.3,66.6" stroke="#9400d3" fill="none" stroke-width="0.85"/><circle cx="458.6" cy="66.6" r="0.4" fill="#9400d3" fill-opacity="0.7" stroke="none"/>
<polygon points="463.9,76.0 467.2,79.3 463.9,82.6 460.6,79.3" stroke="#9400d3" fill="none" stroke-width="0.85"/><circle cx="463.9" cy="79.3" r="0.4" fill="#9400d3" fill-opacity="0.7" stroke="none"/>
<polygon points="469.2,70.6 472.5,73.9 469.2,77.2 465.9,73.9" stroke="#9400d3" fill="none" stroke-width="0.85"/><circle cx="469.2" cy="73.9" r="0.4" fill="#9400d3" fill-opacity="0.7" stroke="none"/>
<polygon points="474.5,76.8 477.8,80.1 474.5,83.4 471.2,80.1" stroke="#9400d3" fill="none" stroke-width="0.85"/><circle cx="474.5" cy="80.1" r="0.4" fill="#9400d3" fill-opacity="0.7" stroke="none"/>
<polygon points="479.8,75.3 483.1,78.6 479.8,81.9 476.5,78.6" stroke="#9400d3" fill="none" stroke-width="0.85"/><circle cx="479.8" cy="78.6" r="0.4" fill="#9400d3" fill-opacity="0.7" stroke="none"/>
<polygon points="485.2,75.7 488.5,79.0 485.2,82.3 481.9,79.0" stroke="#9400d3" fill="none" stroke-width="0.85"/><circle cx="485.2" cy="79.0" r="0.4" fill="#9400d3" fill-opacity="0.7" stroke="none"/>
<polygon points="490.5,78.3 493.8,81.6 490.5,84.9 487.2,81.6" stroke="#9400d3" fill="none" stroke-width="0.85"/><circle cx="490.5" cy="81.6" r="0.4" fill="#9400d3" fill-opacity="0.7" stroke="none"/>
<polygon points="495.8,77.6 499.1,80.9 495.8,84.2 492.5,80.9" stroke="#9400d3" fill="none" stroke-width="0.85"/><circle cx="495.8" cy="80.9" r="0.4" fill="#9400d3" fill-opacity="0.7" stroke="none"/>
<polygon points="501.1,71.7 504.4,75.0 501.1,78.3 497.8,75.0" stroke="#9400d3" fill="none" stroke-width="0.85"/><circle cx="501.1" cy="75.0" r="0.4" fill="#9400d3" fill-opacity="0.7" stroke="none"/>
<polygon points="506.4,75.3 509.7,78.6 506.4,81.9 503.1,78.6" stroke="#9400d3" fill="none" stroke-width="0.85"/><circle cx="506.4" cy="78.6" r="0.4" fill="#9400d3" fill-opacity="0.7" stroke="none"/>
<polygon points="511.7,79.9 515.0,83.2 511.7,86.5 508.4,83.2" stroke="#9400d3" fill="none" stroke-width="0.85"/><circle cx="511.7" cy="83.2" r="0.4" fill="#9400d3" fill-opacity="0.7" stroke="none"/>
<polygon points="517.0,77.3 520.3,80.6 517.0,83.9 513.7,80.6" stroke="#9400d3" fill="none" stroke-width="0.85"/><circle cx="517.0" cy="80.6" r="0.4" fill="#9400d3" fill-opacity="0.7" stroke="none"/>
<polygon points="522.3,76.8 525.6,80.1 522.3,83.4 519.0,80.1" stroke="#9400d3" fill="none" stroke-width="0.85"/><circle cx="522.3" cy="80.1" r="0.4" fill="#9400d3" fill-opacity="0.7" stroke="none"/>
<polygon points="527.6,77.6 530.9,80.9 527.6,84.2 524.3,80.9" stroke="#9400d3" fill="none" stroke-width="0.85"/><circle cx="527.6" cy="80.9" r="0.4" fill="#9400d3" fill-opacity="0.7" stroke="none"/>
<polygon points="533.0,70.6 536.3,73.9 533.0,77.2 529.7,73.9" stroke="#9400d3" fill="none" stroke-width="0.85"/><circle cx="533.0" cy="73.9" r="0.4" fill="#9400d3" fill-opacity="0.7" stroke="none"/>
<polygon points="97.4,49.8 100.7,52.2 99.4,56.1 95.3,56.1 94.1,52.2" stroke="#e51e10" fill="none" stroke-width="0.85"/><circle cx="97.4" cy="53.3" r="0.4" fill="#e51e10" fill-opacity="0.7" stroke="none"/>
<polygon points="102.7,47.2 106.0,49.6 104.7,53.5 100.7,53.5 99.4,49.6" stroke="#e51e10" fill="none" stroke-width="0.85"/><circle cx="102.7" cy="50.7" r="0.4" fill="#e51e10" fill-opacity="0.7" stroke="none"/>
<polygon points="108.0,46.8 111.3,49.1 110.0,53.0 106.0,53.0 104.7,49.1" stroke="#e51e10" fill="none" stroke-width="0.85"/><circle cx="108.0" cy="50.2" r="0.4" fill="#e51e10" fill-opacity="0.7" stroke="none"/>
<polygon points="113.3,44.4 116.6,46.8 115.3,50.7 111.3,50.7 110.0,46.8" stroke="#e51e10" fill="none" stroke-width="0.85"/><circle cx="113.3" cy="47.9" r="0.4" fill="#e51e10" fill-opacity="0.7" stroke="none"/>
<polygon points="118.6,47.8 121.9,50.1 120.6,54.0 116.6,54.0 115.3,50.1" stroke="#e51e10" fill="none" stroke-width="0.85"/><circle cx="118.6" cy="51.2" r="0.4" fill="#e51e10" fill-opacity="0.7" stroke="none"/>
<polygon points="123.9,49.8 127.2,52.2 126.0,56.1 121.9,56.1 120.7,52.2" stroke="#e51e10" fill="none" stroke-width="0.85"/><circle cx="123.9" cy="53.3" r="0.4" fill="#e51e10" fill-opacity="0.7" stroke="none"/>
<polygon points="129.2,46.8 132.5,49.1 131.3,53.0 127.2,53.0 126.0,49.1" stroke="#e51e10" fill="none" stroke-width="0.85"/><circle cx="129.2" cy="50.2" r="0.4" fill="#e51e10" fill-opacity="0.7" stroke="none"/>
<polygon points="134.6,48.0 137.8,50.4 136.6,54.3 132.5,54.3 131.3,50.4" stroke="#e51e10" fill="none" stroke-width="0.85"/><circle cx="134.6" cy="51.5" r="0.4" fill="#e51e10" fill-opacity="0.7" stroke="none"/>
<polygon points="139.9,47.5 143.1,49.9 141.9,53.8 137.8,53.8 136.6,49.9" stroke="#e51e10" fill="none" stroke-width="0.85"/><circle cx="139.9" cy="51.0" r="0.4" fill="#e51e10" fill-opacity="0.7" stroke="none"/>
<polygon points="145.2,42.9 148.5,45.3 147.2,49.2 143.2,49.2 141.9,45.3" stroke="#e51e10" fill="none" stroke-width="0.85"/><circle cx="145.2" cy="46.4" r="0.4" fill="#e51e10" fill-opacity="0.7" stroke="none"/>
<polygon points="150.5,47.2 153.8,49.6 152.5,53.5 148.5,53.5 147.2,49.6" stroke="#e51e10" fill="none" stroke-width="0.85"/><circle cx="150.5" cy="50.7" r="0.4" fill="#e51e10" fill-opacity="0.7" stroke="none"/>
<polygon points="155.8,46.9 159.1,49.3 157.8,53.2 153.8,53.2 152.5,49.3" stroke="#e51e10" fill="none" stroke-width="0.85"/><circle cx="155.8" cy="50.4" r="0.4" fill="#e51e10" fill-opacity="0.7" stroke="none"/>
<polygon points="161.1,48.0 164.4,50.4 163.1,54.3 159.1,54.3 157.8,50.4" stroke="#e51e10" fill="none" stroke-width="0.85"/><circle cx="161.1" cy="51.5" r="0.4" fill="#e51e10" fill-opacity="0.7" stroke="none"/>
<polygon points="166.4,41.0 169.7,43.4 168.5,47.3 164.4,47.3 163.1,43.4" stroke="#e51e10" fill="none" stroke-width="0.85"/><circle cx="166.4" cy="44.5" r="0.4" fill="#e51e10" fill-opacity="0.7" stroke="none"/>
<polygon points="171.7,43.0 175.0,45.4 173.8,49.3 169.7,49.3 168.5,45.4" stroke="#e51e10" fill="none" stroke-width="0.85"/><circle cx="171.7" cy="46.5" r="0.4" fill="#e51e10" fill-opacity="0.7" stroke="none"/>
<polygon points="177.1,48.0 180.3,50.4 179.1,54.3 175.0,54.3 173.8,50.4" stroke="#e51e10" fill="none" stroke-width="0.85"/><circle cx="177.1" cy="51.5" r="0.4" fill="#e51e10" fill-opacity="0.7" stroke="none"/>
<polygon points="182.4,47.2 185.6,49.6 184.4,53.5 180.3,53.5 179.1,49.6" stroke="#e51e10" fill="none" stroke-width="0.85"/><circle cx="182.4" cy="50.7" r="0.4" fill="#e51e10" fill-opacity="0.7" stroke="none"/>
<polygon points="187.7,44.5 191.0,46.9 189.7,50.8 185.6,50.8 184.4,46.9" stroke="#e51e10" fill="none" stroke-width="0.85"/><circle cx="187.7" cy="48.0" r="0.4" fill="#e51e10" fill-opacity="0.7" stroke="none"/>
<polygon points="193.0,43.6 196.3,46.0 195.0,49.9 191.0,49.9 189.7,46.0" stroke="#e51e10" fill="none" stroke-width="0.85"/><circle cx="193.0" cy="47.1" r="0.4" fill="#e51e10" fill-opacity="0.7" stroke="none"/>
<polygon points="198.3,54.2 201.6,56.6 200.3,60.5 196.3,60.5 195.0,56.6" stroke="#e51e10" fill="none" stroke-width="0.85"/><circle cx="198.3" cy="57.7" r="0.4" fill="#e51e10" fill-opacity="0.7" stroke="none"/>
<polygon points="203.6,44.9 206.9,47.3 205.6,51.2 201.6,51.2 200.3,47.3" stroke="#e51e10" fill="none" stroke-width="0.85"/><circle cx="203.6" cy="48.4" r="0.4" fill="#e51e10" fill-opacity="0.7" stroke="none"/>
<polygon points="208.9,45.8 212.2,48.1 211.0,52.0 206.9,52.0 205.6,48.1" stroke="#e51e10" fill="none" stroke-width="0.85"/><circle cx="208.9" cy="49.2" r="0.4" fill="#e51e10" fill-opacity="0.7" stroke="none"/>
<polygon points="214.2,46.4 217.5,48.8 216.3,52.7 212.2,52.7 211.0,48.8" stroke="#e51e10" fill="none" stroke-width="0.85"/><circle cx="214.2" cy="49.9" r="0.4" fill="#e51e10" fill-opacity="0.7" stroke="none"/>
<polygon points="219.5,46.0 222.8,48.4 221.6,52.3 217.5,52.3 216.3,48.4" stroke="#e51e10" fill="none" stroke-width="0.85"/><circle cx="219.5" cy="49.5" r="0.4" fill="#e51e10" fill-opacity="0.7" stroke="none"/>
<polygon points="224.9,45.2 228.1,47.6 226.9,51.5 222.8,51.5 221.6,47.6" stroke="#e51e10" fill="none" stroke-width="0.85"/><circle cx="224.9" cy="48.7" r="0.4" fill="#e51e10" fill-opacity="0.7" stroke="none"/>
<polygon points="230.2,45.2 233.5,47.6 232.2,51.5 228.1,51.5 226.9,47.6" stroke="#e51e10" fill="none" stroke-width="0.85"/><circle cx="230.2" cy="48.7" r="0.4" fill="#e51e10" fill-opacity="0.7" stroke="none"/>
<polygon points="235.5,47.2 238.8,49.6 237.5,53.5 233.5,53.5 232.2,49.6" stroke="#e51e10" fill="none" stroke-width="0.85"/><circle cx="235.5" cy="50.7" r="0.4" fill="#e51e10" fill-opacity="0.7" stroke="none"/>
<polygon points="240.8,44.6 244.1,47.0 242.8,50.9 238.8,50.9 237.5,47.0" stroke="#e51e10" fill="none" stroke-width="0.85"/><circle cx="240.8" cy="48.1" r="0.4" fill="#e51e10" fill-opacity="0.7" stroke="none"/>
<polygon points="246.1,43.6 249.4,46.0 248.1,49.9 244.1,49.9 242.8,46.0" stroke="#e51e10" fill="none" stroke-width="0.85"/><circle cx="246.1" cy="47.1" r="0.4" fill="#e51e10" fill-opacity="0.7" stroke="none"/>
<polygon points="251.4,47.2 254.7,49.6 253.4,53.5 249.4,53.5 248.1,49.6" stroke="#e51e10" fill="none" stroke-width="0.85"/><circle cx="251.4" cy="50.7" r="0.4" fill="#e51e10" fill-opacity="0.7" stroke="none"/>
<polygon points="256.7,44.6 260.0,47.0 258.8,50.9 254.7,50.9 253.5,47.0" stroke="#e51e10" fill="none" stroke-width="0.85"/><circle cx="256.7" cy="48.1" r="0.4" fill="#e51e10" fill-opacity="0.7" stroke="none"/>
<polygon points="262.0,47.2 265.3,49.6 264.1,53.5 260.0,53.5 258.8,49.6" stroke="#e51e10" fill="none" stroke-width="0.85"/><circle cx="262.0" cy="50.7" r="0.4" fill="#e51e10" fill-opacity="0.7" stroke="none"/>
<polygon points="267.4,41.0 270.6,43.4 269.4,47.3 265.3,47.3 264.1,43.4" stroke="#e51e10" fill="none" stroke-width="0.85"/><circle cx="267.4" cy="44.5" r="0.4" fill="#e51e10" fill-opacity="0.7" stroke="none"/>
<polygon points="272.7,41.8 275.9,44.2 274.7,48.1 270.6,48.1 269.4,44.2" stroke="#e51e10" fill="none" stroke-width="0.85"/><circle cx="272.7" cy="45.3" r="0.4" fill="#e51e10" fill-opacity="0.7" stroke="none"/>
<polygon points="278.0,47.2 281.3,49.6 280.0,53.5 276.0,53.5 274.7,49.6" stroke="#e51e10" fill="none" stroke-width="0.85"/><circle cx="278.0" cy="50.7" r="0.4" fill="#e51e10" fill-opacity="0.7" stroke="none"/>
<polygon points="283.3,51.8 286.6,54.2 285.3,58.1 281.3,58.1 280.0,54.2" stroke="#e51e10" fill="none" stroke-width="0.85"/><circle cx="283.3" cy="55.3" r="0.4" fill="#e51e10" fill-opacity="0.7" stroke="none"/>
<polygon points="288.6,48.0 291.9,50.4 290.6,54.3 286.6,54.3 285.3,50.4" stroke="#e51e10" fill="none" stroke-width="0.85"/><circle cx="288.6" cy="51.5" r="0.4" fill="#e51e10" fill-opacity="0.7" stroke="none"/>
<polygon points="293.9,48.0 297.2,50.4 295.9,54.3 291.9,54.3 290.6,50.4" stroke="#e51e10" fill="none" stroke-width="0.85"/><circle cx="293.9" cy="51.5" r="0.4" fill="#e51e10" fill-opacity="0.7" stroke="none"/>
<polygon points="299.2,45.8 302.5,48.1 301.3,52.0 297.2,52.0 295.9,48.1" stroke="#e51e10" fill="none" stroke-width="0.85"/><circle cx="299.2" cy="49.2" r="0.4" fill="#e51e10" fill-opacity="0.7" stroke="none"/>
<polygon points="304.5,43.0 307.8,45.4 306.6,49.3 302.5,49.3 301.3,45.4" stroke="#e51e10" fill="none" stroke-width="0.85"/><circle cx="304.5" cy="46.5" r="0.4" fill="#e51e10" fill-opacity="0.7" stroke="none"/>
<polygon points="309.9,48.8 313.1,51.1 311.9,55.0 307.8,55.0 306.6,51.1" stroke="#e51e10" fill="none" stroke-width="0.85"/><circle cx="309.9" cy="52.2" r="0.4" fill="#e51e10" fill-opacity="0.7" stroke="none"/>
<polygon points="315.2,45.8 318.4,48.1 317.2,52.0 313.1,52.0 311.9,48.1" stroke="#e51e10" fill="none" stroke-width="0.85"/><circle cx="315.2" cy="49.2" r="0.4" fill="#e51e10" fill-opacity="0.7" stroke="none"/>
<polygon points="320.5,48.0 323.8,50.4 322.5,54.3 318.4,54.3 317.2,50.4" stroke="#e51e10" fill="none" stroke-width="0.85"/><circle cx="320.5" cy="51.5" r="0.4" fill="#e51e10" fill-opacity="0.7" stroke="none"/>
<polygon points="325.8,39.5 329.1,41.9 327.8,45.8 323.8,45.8 322.5,41.9" stroke="#e51e10" fill="none" stroke-width="0.85"/><circle cx="325.8" cy="43.0" r="0.4" fill="#e51e10" fill-opacity="0.7" stroke="none"/>
<polygon points="331.1,44.6 334.4,47.0 333.1,50.9 329.1,50.9 327.8,47.0" stroke="#e51e10" fill="none" stroke-width="0.85"/><circle cx="331.1" cy="48.1" r="0.4" fill="#e51e10" fill-opacity="0.7" stroke="none"/>
<polygon points="336.4,44.9 339.7,47.3 338.4,51.2 334.4,51.2 333.1,47.3" stroke="#e51e10" fill="none" stroke-width="0.85"/><circle cx="336.4" cy="48.4" r="0.4" fill="#e51e10" fill-opacity="0.7" stroke="none"/>
<polygon points="341.7,43.6 345.0,46.0 343.8,49.9 339.7,49.9 338.4,46.0" stroke="#e51e10" fill="none" stroke-width="0.85"/><circle cx="341.7" cy="47.1" r="0.4" fill="#e51e10" fill-opacity="0.7" stroke="none"/>
<polygon points="347.0,52.6 350.3,55.0 349.1,58.9 345.0,58.9 343.8,55.0" stroke="#e51e10" fill="none" stroke-width="0.85"/><circle cx="347.0" cy="56.1" r="0.4" fill="#e51e10" fill-opacity="0.7" stroke="none"/>
<polygon points="352.3,43.6 355.6,46.0 354.4,49.9 350.3,49.9 349.1,46.0" stroke="#e51e10" fill="none" stroke-width="0.85"/><circle cx="352.3" cy="47.1" r="0.4" fill="#e51e10" fill-opacity="0.7" stroke="none"/>
<polygon points="357.7,45.8 360.9,48.1 359.7,52.0 355.6,52.0 354.4,48.1" stroke="#e51e10" fill="none" stroke-width="0.85"/><circle cx="357.7" cy="49.2" r="0.4" fill="#e51e10" fill-opacity="0.7" stroke="none"/>
<polygon points="363.0,44.1 366.3,46.5 365.0,50.4 360.9,50.4 359.7,46.5" stroke="#e51e10" fill="none" stroke-width="0.85"/><circle cx="363.0" cy="47.6" r="0.4" fill="#e51e10" fill-opacity="0.7" stroke="none"/>
<polygon points="368.3,46.8 371.6,49.1 370.3,53.0 366.3,53.0 365.0,49.1" stroke="#e51e10" fill="none" stroke-width="0.85"/><circle cx="368.3" cy="50.2" r="0.4" fill="#e51e10" fill-opacity="0.7" stroke="none"/>
<polygon points="373.6,43.6 376.9,46.0 375.6,49.9 371.6,49.9 370.3,46.0" stroke="#e51e10" fill="none" stroke-width="0.85"/><circle cx="373.6" cy="47.1" r="0.4" fill="#e51e10" fill-opacity="0.7" stroke="none"/>
<polygon points="378.9,51.1 382.2,53.5 380.9,57.4 376.9,57.4 375.6,53.5" stroke="#e51e10" fill="none" stroke-width="0.85"/><circle cx="378.9" cy="54.6" r="0.4" fill="#e51e10" fill-opacity="0.7" stroke="none"/>
<polygon points="384.2,41.0 387.5,43.4 386.2,47.3 382.2,47.3 380.9,43.4" stroke="#e51e10" fill="none" stroke-width="0.85"/><circle cx="384.2" cy="44.5" r="0.4" fill="#e51e10" fill-opacity="0.7" stroke="none"/>
<polygon points="389.5,46.1 392.8,48.5 391.6,52.4 387.5,52.4 386.3,48.5" stroke="#e51e10" fill="none" stroke-width="0.85"/><circle cx="389.5" cy="49.6" r="0.4" fill="#e51e10" fill-opacity="0.7" stroke="none"/>
<polygon points="394.8,48.8 398.1,51.1 396.9,55.0 392.8,55.0 391.6,51.1" stroke="#e51e10" fill="none" stroke-width="0.85"/><circle cx="394.8" cy="52.2" r="0.4" fill="#e51e10" fill-opacity="0.7" stroke="none"/>
<polygon points="400.2,44.9 403.4,47.3 402.2,51.2 398.1,51.2 396.9,47.3" stroke="#e51e10" fill="none" stroke-width="0.85"/><circle cx="400.2" cy="48.4" r="0.4" fill="#e51e10" fill-opacity="0.7" stroke="none"/>
<polygon points="405.5,50.3 408.8,52.7 407.5,56.6 403.4,56.6 402.2,52.7" stroke="#e51e10" fill="none" stroke-width="0.85"/><circle cx="405.5" cy="53.8" r="0.4" fill="#e51e10" fill-opacity="0.7" stroke="none"/>
<polygon points="410.8,51.4 414.1,53.8 412.8,57.7 408.8,57.7 407.5,53.8" stroke="#e51e10" fill="none" stroke-width="0.85"/><circle cx="410.8" cy="54.9" r="0.4" fill="#e51e10" fill-opacity="0.7" stroke="none"/>
<polygon points="416.1,44.9 419.4,47.3 418.1,51.2 414.1,51.2 412.8,47.3" stroke="#e51e10" fill="none" stroke-width="0.85"/><circle cx="416.1" cy="48.4" r="0.4" fill="#e51e10" fill-opacity="0.7" stroke="none"/>
<polygon points="421.4,45.2 424.7,47.6 423.4,51.5 419.4,51.5 418.1,47.6" stroke="#e51e10" fill="none" stroke-width="0.85"/><circle cx="421.4" cy="48.7" r="0.4" fill="#e51e10" fill-opacity="0.7" stroke="none"/>
<polygon points="426.7,45.2 430.0,47.6 428.7,51.5 424.7,51.5 423.4,47.6" stroke="#e51e10" fill="none" stroke-width="0.85"/><circle cx="426.7" cy="48.7" r="0.4" fill="#e51e10" fill-opacity="0.7" stroke="none"/>
<polygon points="432.0,41.8 435.3,44.2 434.1,48.1 430.0,48.1 428.7,44.2" stroke="#e51e10" fill="none" stroke-width="0.85"/><circle cx="432.0" cy="45.3" r="0.4" fill="#e51e10" fill-opacity="0.7" stroke="none"/>
<polygon points="437.3,52.6 440.6,55.0 439.4,58.9 435.3,58.9 434.1,55.0" stroke="#e51e10" fill="none" stroke-width="0.85"/><circle cx="437.3" cy="56.1" r="0.4" fill="#e51e10" fill-opacity="0.7" stroke="none"/>
<polygon points="442.7,46.1 445.9,48.5 444.7,52.4 440.6,52.4 439.4,48.5" stroke="#e51e10" fill="none" stroke-width="0.85"/><circle cx="442.7" cy="49.6" r="0.4" fill="#e51e10" fill-opacity="0.7" stroke="none"/>
<polygon points="448.0,47.2 451.2,49.6 450.0,53.5 445.9,53.5 444.7,49.6" stroke="#e51e10" fill="none" stroke-width="0.85"/><circle cx="448.0" cy="50.7" r="0.4" fill="#e51e10" fill-opacity="0.7" stroke="none"/>
<polygon points="453.3,46.8 456.6,49.1 455.3,53.0 451.3,53.0 450.0,49.1" stroke="#e51e10" fill="none" stroke-width="0.85"/><circle cx="453.3" cy="50.2" r="0.4" fill="#e51e10" fill-opacity="0.7" stroke="none"/>
<polygon points="458.6,44.1 461.9,46.5 460.6,50.4 456.6,50.4 455.3,46.5" stroke="#e51e10" fill="none" stroke-width="0.85"/><circle cx="458.6" cy="47.6" r="0.4" fill="#e51e10" fill-opacity="0.7" stroke="none"/>
<polygon points="463.9,52.6 467.2,55.0 465.9,58.9 461.9,58.9 460.6,55.0" stroke="#e51e10" fill="none" stroke-width="0.85"/><circle cx="463.9" cy="56.1" r="0.4" fill="#e51e10" fill-opacity="0.7" stroke="none"/>
<polygon points="469.2,47.2 472.5,49.6 471.2,53.5 467.2,53.5 465.9,49.6" stroke="#e51e10" fill="none" stroke-width="0.85"/><circle cx="469.2" cy="50.7" r="0.4" fill="#e51e10" fill-opacity="0.7" stroke="none"/>
<polygon points="474.5,55.4 477.8,57.8 476.6,61.7 472.5,61.7 471.2,57.8" stroke="#e51e10" fill="none" stroke-width="0.85"/><circle cx="474.5" cy="58.9" r="0.4" fill="#e51e10" fill-opacity="0.7" stroke="none"/>
<polygon points="479.8,51.1 483.1,53.5 481.9,57.4 477.8,57.4 476.6,53.5" stroke="#e51e10" fill="none" stroke-width="0.85"/><circle cx="479.8" cy="54.6" r="0.4" fill="#e51e10" fill-opacity="0.7" stroke="none"/>
<polygon points="485.2,43.6 488.4,46.0 487.2,49.9 483.1,49.9 481.9,46.0" stroke="#e51e10" fill="none" stroke-width="0.85"/><circle cx="485.2" cy="47.1" r="0.4" fill="#e51e10" fill-opacity="0.7" stroke="none"/>
<polygon points="490.5,51.4 493.7,53.8 492.5,57.7 488.4,57.7 487.2,53.8" stroke="#e51e10" fill="none" stroke-width="0.85"/><circle cx="490.5" cy="54.9" r="0.4" fill="#e51e10" fill-opacity="0.7" stroke="none"/>
<polygon points="495.8,51.1 499.1,53.5 497.8,57.4 493.7,57.4 492.5,53.5" stroke="#e51e10" fill="none" stroke-width="0.85"/><circle cx="495.8" cy="54.6" r="0.4" fill="#e51e10" fill-opacity="0.7" stroke="none"/>
<polygon points="501.1,41.0 504.4,43.4 503.1,47.3 499.1,47.3 497.8,43.4" stroke="#e51e10" fill="none" stroke-width="0.85"/><circle cx="501.1" cy="44.5" r="0.4" fill="#e51e10" fill-opacity="0.7" stroke="none"/>
<polygon points="506.4,46.8 509.7,49.1 508.4,53.0 504.4,53.0 503.1,49.1" stroke="#e51e10" fill="none" stroke-width="0.85"/><circle cx="506.4" cy="50.2" r="0.4" fill="#e51e10" fill-opacity="0.7" stroke="none"/>
<polygon points="511.7,51.4 515.0,53.8 513.7,57.7 509.7,57.7 508.4,53.8" stroke="#e51e10" fill="none" stroke-width="0.85"/><circle cx="511.7" cy="54.9" r="0.4" fill="#e51e10" fill-opacity="0.7" stroke="none"/>
<polygon points="517.0,43.6 520.3,46.0 519.1,49.9 515.0,49.9 513.7,46.0" stroke="#e51e10" fill="none" stroke-width="0.85"/><circle cx="517.0" cy="47.1" r="0.4" fill="#e51e10" fill-opacity="0.7" stroke="none"/>
<polygon points="522.3,45.8 525.6,48.1 524.4,52.0 520.3,52.0 519.1,48.1" stroke="#e51e10" fill="none" stroke-width="0.85"/><circle cx="522.3" cy="49.2" r="0.4" fill="#e51e10" fill-opacity="0.7" stroke="none"/>
<polygon points="527.6,47.2 530.9,49.6 529.7,53.5 525.6,53.5 524.4,49.6" stroke="#e51e10" fill="none" stroke-width="0.85"/><circle cx="527.6" cy="50.7" r="0.4" fill="#e51e10" fill-opacity="0.7" stroke="none"/>
<polygon points="533.0,39.5 536.2,41.9 535.0,45.8 530.9,45.8 529.7,41.9" stroke="#e51e10" fill="none" stroke-width="0.85"/><circle cx="533.0" cy="43.0" r="0.4" fill="#e51e10" fill-opacity="0.7" stroke="none"/>
<path d="M93.8,105.7 L96.3,105.7 L98.8,105.7 L101.2,105.6 L103.7,105.5 L106.2,105.4 L108.7,105.3 L111.1,105.1 L113.6,105.0 L116.1,104.8 L118.6,104.5 L121.0,104.3 L123.5,104.0 L126.0,103.8 L128.5,103.5 L130.9,103.1 L133.4,102.8 L135.9,102.4 L138.3,102.1 L140.8,101.7 L143.3,101.2 L145.8,100.8 L148.2,100.4 L150.7,99.9 L153.2,99.4 L155.7,98.9 L158.1,98.4 L160.6,97.9 L163.1,97.4 L165.5,96.8 L168.0,96.2 L170.5,95.7 L173.0,95.1 L175.4,94.5 L177.9,93.9 L180.4,93.3 L182.9,92.7 L185.3,92.1 L187.8,91.5 L190.3,90.9 L192.8,90.3 L195.2,89.7 L197.7,89.1 L200.2,88.5 L202.6,87.9 L205.1,87.3 L207.6,86.8 L210.1,86.2 L212.5,85.7 L215.0,85.2 L217.5,84.8 L220.0,84.4 L222.4,84.0 L224.9,83.6 L227.4,83.3 L229.8,83.0 L232.3,82.8 L234.8,82.6 L237.3,82.5 L239.7,82.5 L242.2,82.5 L244.7,82.5 L247.2,82.6 L249.6,82.8 L252.1,83.1 L254.6,83.4 L257.0,83.8 L259.5,84.3 L262.0,84.9 L264.5,85.5 L266.9,86.3 L269.4,87.1 L271.9,88.0 L274.4,89.0 L276.8,90.2 L279.3,91.4 L281.8,92.7 L284.3,94.1 L286.7,95.6 L289.2,97.3 L291.7,99.0 L294.1,100.9 L296.6,102.9 L299.1,105.0 L301.6,107.3 L304.0,109.7 L306.5,112.2 L309.0,114.8 L311.5,117.6 L313.9,120.5 L316.4,123.6 L318.9,126.8 L321.3,130.1 L323.8,133.6 L326.3,137.2 L328.8,141.0 L331.2,144.8 L333.7,148.8 L336.2,152.9 L338.7,157.2 L341.1,161.5 L343.6,165.9 L346.1,170.4 L348.6,175.0 L351.0,179.6 L353.5,184.3 L356.0,189.0 L358.4,193.8 L360.9,198.6 L363.4,203.3 L365.9,208.1 L368.3,212.8 L370.8,217.5 L373.3,222.2 L375.8,226.7 L378.2,231.2 L380.7,235.7 L383.2,240.0 L385.6,244.2 L388.1,248.3 L390.6,252.3 L393.1,256.1 L395.5,259.8 L398.0,263.4 L400.5,266.8 L403.0,270.1 L405.4,273.3 L407.9,276.3 L410.4,279.1 L412.8,281.9 L415.3,284.5 L417.8,286.9 L420.3,289.3 L422.7,291.5 L425.2,293.6 L427.7,295.6 L430.2,297.5 L432.6,299.3 L435.1,301.0 L437.6,302.6 L440.1,304.2 L442.5,305.6 L445.0,307.0 L447.5,308.3 L449.9,309.6 L452.4,310.8 L454.9,312.0 L457.4,313.1 L459.8,314.1 L462.3,315.1 L464.8,316.0 L467.3,316.9 L469.7,317.8 L472.2,318.6 L474.7,319.3 L477.1,320.0 L479.6,320.7 L482.1,321.3 L484.6,321.8 L487.0,322.4 L489.5,322.8 L492.0,323.3 L494.5,323.6 L496.9,324.0 L499.4,324.3 L501.9,324.6 L504.4,324.8 L506.8,325.0 L509.3,325.2 L511.8,325.3 L514.2,325.4 L516.7,325.5 L519.2,325.6 L521.7,325.7 L524.1,325.7 L526.6,325.8 L529.1,325.8 L531.6,325.8 L534.0,325.8 L536.5,325.8" stroke="#0072b2" stroke-width="4.0" fill="none" stroke-linejoin="round"/>
<path d="M93.8,112.7 L96.3,112.7 L98.8,112.6 L101.2,112.6 L103.7,112.5 L106.2,112.4 L108.7,112.3 L111.1,112.2 L113.6,112.0 L116.1,111.9 L118.6,111.7 L121.0,111.5 L123.5,111.2 L126.0,110.9 L128.5,110.7 L130.9,110.3 L133.4,110.0 L135.9,109.6 L138.3,109.2 L140.8,108.8 L143.3,108.3 L145.8,107.9 L148.2,107.4 L150.7,106.8 L153.2,106.3 L155.7,105.7 L158.1,105.1 L160.6,104.5 L163.1,103.8 L165.5,103.2 L168.0,102.5 L170.5,101.8 L173.0,101.0 L175.4,100.3 L177.9,99.6 L180.4,98.8 L182.9,98.0 L185.3,97.2 L187.8,96.5 L190.3,95.7 L192.8,94.9 L195.2,94.1 L197.7,93.3 L200.2,92.5 L202.6,91.7 L205.1,90.9 L207.6,90.1 L210.1,89.3 L212.5,88.5 L215.0,87.7 L217.5,87.0 L220.0,86.2 L222.4,85.5 L224.9,84.8 L227.4,84.1 L229.8,83.4 L232.3,82.7 L234.8,82.0 L237.3,81.4 L239.7,80.8 L242.2,80.2 L244.7,79.7 L247.2,79.2 L249.6,78.7 L252.1,78.3 L254.6,77.9 L257.0,77.6 L259.5,77.3 L262.0,77.0 L264.5,76.8 L266.9,76.7 L269.4,76.7 L271.9,76.7 L274.4,76.8 L276.8,77.0 L279.3,77.2 L281.8,77.5 L284.3,78.0 L286.7,78.5 L289.2,79.1 L291.7,79.8 L294.1,80.6 L296.6,81.4 L299.1,82.4 L301.6,83.5 L304.0,84.7 L306.5,86.0 L309.0,87.4 L311.5,88.9 L313.9,90.4 L316.4,92.1 L318.9,93.8 L321.3,95.6 L323.8,97.5 L326.3,99.5 L328.8,101.5 L331.2,103.6 L333.7,105.7 L336.2,107.9 L338.7,110.1 L341.1,112.3 L343.6,114.5 L346.1,116.8 L348.6,119.0 L351.0,121.3 L353.5,123.5 L356.0,125.7 L358.4,127.9 L360.9,130.0 L363.4,132.1 L365.9,134.1 L368.3,136.1 L370.8,138.0 L373.3,139.9 L375.8,141.6 L378.2,143.3 L380.7,144.9 L383.2,146.4 L385.6,147.9 L388.1,149.2 L390.6,150.4 L393.1,151.6 L395.5,152.7 L398.0,153.6 L400.5,154.5 L403.0,155.3 L405.4,156.0 L407.9,156.6 L410.4,157.2 L412.8,157.6 L415.3,158.0 L417.8,158.3 L420.3,158.6 L422.7,158.8 L425.2,158.9 L427.7,159.0 L430.2,159.0 L432.6,159.0 L435.1,159.0 L437.6,158.9 L440.1,158.8 L442.5,158.6 L445.0,158.5 L447.5,158.3 L449.9,158.1 L452.4,157.9 L454.9,157.6 L457.4,157.4 L459.8,157.2 L462.3,156.9 L464.8,156.7 L467.3,156.4 L469.7,156.2 L472.2,155.9 L474.7,155.7 L477.1,155.5 L479.6,155.3 L482.1,155.0 L484.6,154.8 L487.0,154.6 L489.5,154.4 L492.0,154.2 L494.5,154.1 L496.9,153.9 L499.4,153.7 L501.9,153.6 L504.4,153.5 L506.8,153.3 L509.3,153.2 L511.8,153.1 L514.2,153.0 L516.7,152.9 L519.2,152.8 L521.7,152.8 L524.1,152.7 L526.6,152.7 L529.1,152.6 L531.6,152.6 L534.0,152.6 L536.5,152.6" stroke="#009e73" stroke-width="4.0" fill="none" stroke-linejoin="round"/>
<path d="M93.8,84.7 L96.3,84.7 L98.8,84.6 L101.2,84.6 L103.7,84.5 L106.2,84.4 L108.7,84.3 L111.1,84.2 L113.6,84.0 L116.1,83.9 L118.6,83.7 L121.0,83.5 L123.5,83.2 L126.0,83.0 L128.5,82.7 L130.9,82.4 L133.4,82.1 L135.9,81.8 L138.3,81.4 L140.8,81.1 L143.3,80.7 L145.8,80.3 L148.2,79.8 L150.7,79.4 L153.2,78.9 L155.7,78.5 L158.1,78.0 L160.6,77.5 L163.1,76.9 L165.5,76.4 L168.0,75.9 L170.5,75.3 L173.0,74.7 L175.4,74.2 L177.9,73.6 L180.4,73.0 L182.9,72.4 L185.3,71.8 L187.8,71.1 L190.3,70.5 L192.8,69.9 L195.2,69.3 L197.7,68.7 L200.2,68.1 L202.6,67.5 L205.1,66.9 L207.6,66.4 L210.1,65.8 L212.5,65.2 L215.0,64.7 L217.5,64.2 L220.0,63.7 L222.4,63.2 L224.9,62.8 L227.4,62.3 L229.8,61.9 L232.3,61.5 L234.8,61.2 L237.3,60.8 L239.7,60.5 L242.2,60.3 L244.7,60.0 L247.2,59.8 L249.6,59.6 L252.1,59.5 L254.6,59.4 L257.0,59.3 L259.5,59.3 L262.0,59.3 L264.5,59.3 L266.9,59.4 L269.4,59.5 L271.9,59.6 L274.4,59.8 L276.8,60.0 L279.3,60.2 L281.8,60.5 L284.3,60.7 L286.7,61.1 L289.2,61.4 L291.7,61.8 L294.1,62.2 L296.6,62.7 L299.1,63.2 L301.6,63.6 L304.0,64.2 L306.5,64.7 L309.0,65.3 L311.5,65.8 L313.9,66.4 L316.4,67.1 L318.9,67.7 L321.3,68.3 L323.8,69.0 L326.3,69.7 L328.8,70.4 L331.2,71.1 L333.7,71.8 L336.2,72.5 L338.7,73.2 L341.1,73.9 L343.6,74.6 L346.1,75.3 L348.6,76.1 L351.0,76.8 L353.5,77.5 L356.0,78.2 L358.4,79.0 L360.9,79.7 L363.4,80.4 L365.9,81.1 L368.3,81.8 L370.8,82.5 L373.3,83.2 L375.8,83.9 L378.2,84.5 L380.7,85.2 L383.2,85.8 L385.6,86.5 L388.1,87.1 L390.6,87.7 L393.1,88.3 L395.5,88.9 L398.0,89.5 L400.5,90.0 L403.0,90.6 L405.4,91.1 L407.9,91.7 L410.4,92.2 L412.8,92.7 L415.3,93.2 L417.8,93.6 L420.3,94.1 L422.7,94.5 L425.2,94.9 L427.7,95.4 L430.2,95.8 L432.6,96.1 L435.1,96.5 L437.6,96.8 L440.1,97.2 L442.5,97.5 L445.0,97.8 L447.5,98.1 L449.9,98.4 L452.4,98.6 L454.9,98.9 L457.4,99.1 L459.8,99.4 L462.3,99.6 L464.8,99.8 L467.3,100.0 L469.7,100.1 L472.2,100.3 L474.7,100.4 L477.1,100.6 L479.6,100.7 L482.1,100.8 L484.6,100.9 L487.0,101.1 L489.5,101.1 L492.0,101.2 L494.5,101.3 L496.9,101.4 L499.4,101.4 L501.9,101.5 L504.4,101.6 L506.8,101.6 L509.3,101.6 L511.8,101.7 L514.2,101.7 L516.7,101.7 L519.2,101.8 L521.7,101.8 L524.1,101.8 L526.6,101.8 L529.1,101.8 L531.6,101.8 L534.0,101.8 L536.5,101.8" stroke="#9400d3" stroke-width="4.0" fill="none" stroke-linejoin="round"/>
<path d="M93.83,53.3 H536.5" stroke="#e51e10" stroke-width="4.0" fill="none"/>
<rect x="93.83" y="10.83" width="442.7" height="442.6" fill="none" stroke="#000" stroke-width="0.75"/>
<text x="174.0" y="273.0" font-size="20.4" text-anchor="start" class="it">t</text>
<path d="M185.6,265.3 h14.8 M185.6,269.7 h14.8" stroke="#000" stroke-width="0.9" fill="none"/>
<text x="219.8" y="273.0" font-size="20.4" text-anchor="end">0</text>
<text x="113.0" y="294.1" font-size="20.4" textLength="32" lengthAdjust="spacingAndGlyphs">PM</text>
<text x="153.6" y="294.1" font-size="20.4" text-anchor="start" class="it">t</text>
<path d="M167.0,286.4 h14.8 M167.0,290.8 h14.8" stroke="#000" stroke-width="0.9" fill="none"/>
<text x="219.8" y="294.1" font-size="20.4" text-anchor="end">100</text>
<text x="219.8" y="315.2" font-size="20.4" text-anchor="end">300</text>
<text x="219.8" y="336.3" font-size="20.4" text-anchor="end">500</text>
<text x="199.7" y="360.7" font-size="26" textLength="19.8" lengthAdjust="spacingAndGlyphs">∞</text>
<text x="105.6" y="378.5" font-size="20.4" textLength="39" lengthAdjust="spacingAndGlyphs">EV1</text>
<text x="153.6" y="378.5" font-size="20.4" text-anchor="start" class="it">t</text>
<path d="M167.0,370.8 h14.8 M167.0,375.2 h14.8" stroke="#000" stroke-width="0.9" fill="none"/>
<text x="219.8" y="378.5" font-size="20.4" text-anchor="end">100</text>
<text x="219.8" y="399.6" font-size="20.4" text-anchor="end">300</text>
<text x="219.8" y="420.7" font-size="20.4" text-anchor="end">500</text>
<text x="199.7" y="445.1" font-size="26" textLength="19.8" lengthAdjust="spacingAndGlyphs">∞</text>
<path d="M232.9,267.6 H290.05" stroke="#000" stroke-width="4.0" stroke-dasharray="7.6 10.85" fill="none"/>
<circle cx="261.4" cy="288.7" r="3.2" stroke="#0072b2" fill="none" stroke-width="0.85"/><circle cx="261.4" cy="288.7" r="0.4" fill="#0072b2" fill-opacity="0.7" stroke="none"/>
<polygon points="261.4,306.7 264.6,312.3 258.2,312.3" stroke="#009e73" fill="none" stroke-width="0.85"/><circle cx="261.4" cy="310.4" r="0.4" fill="#009e73" fill-opacity="0.7" stroke="none"/>
<polygon points="261.4,327.6 264.7,330.9 261.4,334.2 258.1,330.9" stroke="#9400d3" fill="none" stroke-width="0.85"/><circle cx="261.4" cy="330.9" r="0.4" fill="#9400d3" fill-opacity="0.7" stroke="none"/>
<polygon points="261.4,348.6 264.7,350.9 263.4,354.8 259.4,354.8 258.1,350.9" stroke="#e51e10" fill="none" stroke-width="0.85"/><circle cx="261.4" cy="352.0" r="0.4" fill="#e51e10" fill-opacity="0.7" stroke="none"/>
<path d="M232.9,373.1 H290.05" stroke="#0072b2" stroke-width="4.0" fill="none"/>
<path d="M232.9,394.2 H290.05" stroke="#009e73" stroke-width="4.0" fill="none"/>
<path d="M232.9,415.3 H290.05" stroke="#9400d3" stroke-width="4.0" fill="none"/>
<path d="M232.9,436.4 H290.05" stroke="#e51e10" stroke-width="4.0" fill="none"/>
<text x="514" y="33.4" font-size="20.8" text-anchor="middle">(e)</text>
<text x="298.0" y="510.7" font-size="21" class="it">x</text>
<path d="M311.2,515.8 L318.2,495" stroke="#000" stroke-width="0.95" fill="none"/>
<text x="320.3" y="510.7" font-size="21" class="it" textLength="11.8" lengthAdjust="spacingAndGlyphs">σ</text>
<text transform="translate(15.4,234) rotate(-90)" font-size="22" text-anchor="middle" class="it" textLength="14.6" lengthAdjust="spacingAndGlyphs">T</text>
</svg></body></html>
